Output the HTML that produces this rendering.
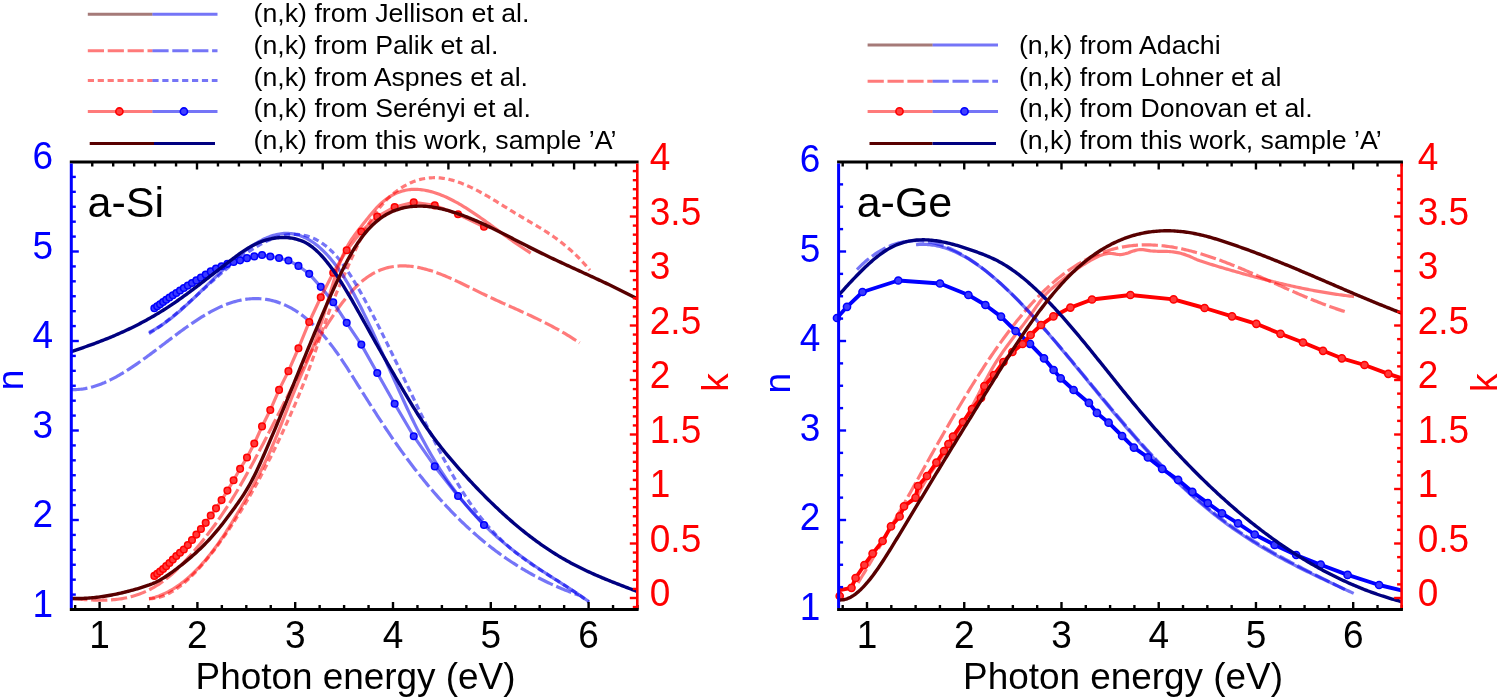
<!DOCTYPE html><html><head><meta charset="utf-8"><style>html,body{margin:0;padding:0;background:#fff;}svg{display:block;filter:blur(0.3px);}</style></head><body><svg width="1499" height="700" viewBox="0 0 1499 700" font-family='"Liberation Sans", sans-serif'>
<rect width="1499" height="700" fill="#fff"/>
<line x1="87.80" y1="14.20" x2="152.40" y2="14.20" stroke="#a57a78" stroke-width="3.0" />
<line x1="152.40" y1="14.20" x2="217.50" y2="14.20" stroke="rgba(0,0,240,0.54)" stroke-width="3.0" />
<line x1="87.80" y1="50.70" x2="152.40" y2="50.70" stroke="rgba(255,0,0,0.52)" stroke-width="3.0" stroke-dasharray="16.2 3.7"/>
<line x1="152.40" y1="50.70" x2="217.50" y2="50.70" stroke="rgba(0,0,240,0.54)" stroke-width="3.0" stroke-dasharray="16.2 3.7"/>
<line x1="87.80" y1="80.50" x2="152.40" y2="80.50" stroke="rgba(255,0,0,0.52)" stroke-width="3.0" stroke-dasharray="6.2 3.7"/>
<line x1="152.40" y1="80.50" x2="217.50" y2="80.50" stroke="rgba(0,0,240,0.54)" stroke-width="3.0" stroke-dasharray="6.2 3.7"/>
<line x1="87.80" y1="111.50" x2="152.40" y2="111.50" stroke="rgba(255,0,0,0.52)" stroke-width="3.0" />
<line x1="152.40" y1="111.50" x2="217.50" y2="111.50" stroke="rgba(0,0,240,0.54)" stroke-width="3.0" />
<circle cx="119.4" cy="111.5" r="3.6" fill="#ff4040" stroke="#ff0000" stroke-width="1.6"/>
<circle cx="183.9" cy="111.5" r="3.6" fill="#4040ff" stroke="#0000ff" stroke-width="1.6"/>
<line x1="89.70" y1="143.50" x2="154.00" y2="143.50" stroke="#580000" stroke-width="3.0" />
<line x1="154.00" y1="143.50" x2="215.00" y2="143.50" stroke="#000080" stroke-width="3.0" />
<text x="253.60" y="22.00" font-size="26.7" fill="#000" text-anchor="start" >(n,k) from Jellison et al.</text>
<text x="253.60" y="53.83" font-size="26.7" fill="#000" text-anchor="start" >(n,k) from Palik et al.</text>
<text x="253.60" y="85.66" font-size="26.7" fill="#000" text-anchor="start" >(n,k) from Aspnes et al.</text>
<text x="253.60" y="117.49" font-size="26.7" fill="#000" text-anchor="start" >(n,k) from Ser&#233;nyi et al.</text>
<text x="253.60" y="149.32" font-size="26.7" fill="#000" text-anchor="start" >(n,k) from this work, sample &#8217;A&#8217;</text>
<line x1="867.60" y1="45.00" x2="932.60" y2="45.00" stroke="#a57a78" stroke-width="3.0" />
<line x1="932.60" y1="45.00" x2="998.00" y2="45.00" stroke="rgba(0,0,240,0.54)" stroke-width="3.0" />
<line x1="867.60" y1="81.30" x2="932.60" y2="81.30" stroke="rgba(255,0,0,0.52)" stroke-width="3.0" stroke-dasharray="16.2 3.7"/>
<line x1="932.60" y1="81.30" x2="998.00" y2="81.30" stroke="rgba(0,0,240,0.54)" stroke-width="3.0" stroke-dasharray="16.2 3.7"/>
<line x1="867.60" y1="111.40" x2="932.60" y2="111.40" stroke="rgba(255,0,0,0.52)" stroke-width="3.0" />
<line x1="932.60" y1="111.40" x2="998.00" y2="111.40" stroke="rgba(0,0,240,0.54)" stroke-width="3.0" />
<circle cx="899.5" cy="111.4" r="3.6" fill="#ff4040" stroke="#ff0000" stroke-width="1.6"/>
<circle cx="964.5" cy="111.4" r="3.6" fill="#4040ff" stroke="#0000ff" stroke-width="1.6"/>
<line x1="869.50" y1="143.60" x2="932.60" y2="143.60" stroke="#580000" stroke-width="3.0" />
<line x1="932.60" y1="143.60" x2="996.00" y2="143.60" stroke="#000080" stroke-width="3.0" />
<text x="1018.90" y="53.83" font-size="26.7" fill="#000" text-anchor="start" >(n,k) from Adachi</text>
<text x="1018.90" y="85.66" font-size="26.7" fill="#000" text-anchor="start" >(n,k) from Lohner et al</text>
<text x="1018.90" y="117.49" font-size="26.7" fill="#000" text-anchor="start" >(n,k) from Donovan et al.</text>
<text x="1018.90" y="149.32" font-size="26.7" fill="#000" text-anchor="start" >(n,k) from this work, sample &#8217;A&#8217;</text>
<defs><clipPath id="cl"><rect x="71.3" y="162" width="566" height="447.5"/></clipPath><clipPath id="cr"><rect x="838.6" y="162" width="563" height="447.5"/></clipPath><clipPath id="clx"><rect x="60" y="150" width="590" height="470"/></clipPath><clipPath id="crx"><rect x="828" y="150" width="585" height="470"/></clipPath></defs>
<path clip-path="url(#cl)" fill="none" stroke-linejoin="round" d="M71.30,389.50 L72.80,389.55 L74.30,389.57 L75.80,389.54 L77.30,389.48 L78.80,389.38 L80.30,389.25 L81.80,389.07 L83.30,388.87 L84.80,388.63 L86.30,388.35 L87.80,388.05 L89.30,387.71 L90.80,387.34 L92.30,386.93 L93.80,386.50 L95.30,386.04 L96.80,385.55 L98.30,385.03 L99.80,384.48 L101.30,383.90 L102.80,383.30 L104.30,382.68 L105.80,382.02 L107.30,381.34 L108.80,380.64 L110.30,379.92 L111.80,379.17 L113.30,378.40 L114.80,377.61 L116.30,376.80 L117.80,375.96 L119.30,375.11 L120.80,374.24 L122.30,373.35 L123.80,372.45 L125.30,371.52 L126.80,370.58 L128.30,369.63 L129.80,368.66 L131.30,367.67 L132.80,366.67 L134.30,365.66 L135.80,364.64 L137.30,363.60 L138.80,362.55 L140.30,361.49 L141.80,360.43 L143.30,359.35 L144.80,358.26 L146.30,357.17 L147.80,356.07 L149.30,354.96 L150.80,353.85 L152.30,352.73 L153.80,351.60 L155.30,350.48 L156.80,349.34 L158.30,348.21 L159.80,347.07 L161.30,345.93 L162.80,344.80 L164.30,343.66 L165.80,342.52 L167.30,341.38 L168.80,340.24 L170.30,339.11 L171.80,337.98 L173.30,336.85 L174.80,335.73 L176.30,334.61 L177.80,333.49 L179.30,332.39 L180.80,331.29 L182.30,330.20 L183.80,329.11 L185.30,328.03 L186.80,326.97 L188.30,325.91 L189.80,324.87 L191.30,323.83 L192.80,322.81 L194.30,321.80 L195.80,320.80 L197.30,319.82 L198.80,318.85 L200.30,317.90 L201.80,316.96 L203.30,316.04 L204.80,315.13 L206.30,314.25 L207.80,313.38 L209.30,312.53 L210.80,311.70 L212.30,310.89 L213.80,310.10 L215.30,309.34 L216.80,308.59 L218.30,307.87 L219.80,307.17 L221.30,306.50 L222.80,305.85 L224.30,305.22 L225.80,304.62 L227.30,304.05 L228.80,303.51 L230.30,302.99 L231.80,302.50 L233.30,302.04 L234.80,301.60 L236.30,301.20 L237.80,300.82 L239.30,300.47 L240.80,300.15 L242.30,299.85 L243.80,299.59 L245.30,299.36 L246.80,299.16 L248.30,298.99 L249.80,298.85 L251.30,298.74 L252.80,298.66 L254.30,298.61 L255.80,298.59 L257.30,298.61 L258.80,298.66 L260.30,298.74 L261.80,298.85 L263.30,299.00 L264.80,299.18 L266.30,299.40 L267.80,299.64 L269.30,299.93 L270.80,300.24 L272.30,300.59 L273.80,300.98 L275.30,301.40 L276.80,301.86 L278.30,302.36 L279.80,302.89 L281.30,303.45 L282.80,304.05 L284.30,304.69 L285.80,305.37 L287.30,306.09 L288.80,306.84 L290.30,307.63 L291.80,308.46 L293.30,309.33 L294.80,310.23 L296.30,311.18 L297.80,312.17 L299.30,313.19 L300.80,314.26 L302.30,315.36 L303.80,316.51 L305.30,317.70 L306.80,318.92 L308.30,320.19 L309.80,321.51 L311.30,322.86 L312.80,324.25 L314.30,325.69 L315.80,327.17 L317.30,328.70 L318.80,330.27 L320.30,331.88 L321.80,333.53 L323.30,335.23 L324.80,336.97 L326.30,338.76 L327.80,340.60 L329.30,342.48 L330.80,344.40 L332.30,346.37 L333.80,348.39 L335.30,350.45 L336.80,352.55 L338.30,354.69 L339.80,356.87 L341.30,359.08 L342.80,361.32 L344.30,363.59 L345.80,365.89 L347.30,368.20 L348.80,370.54 L350.30,372.89 L351.80,375.26 L353.30,377.63 L354.80,380.02 L356.30,382.41 L357.80,384.80 L359.30,387.20 L360.80,389.59 L362.30,391.98 L363.80,394.36 L365.30,396.74 L366.80,399.12 L368.30,401.49 L369.80,403.85 L371.30,406.21 L372.80,408.56 L374.30,410.90 L375.80,413.23 L377.30,415.55 L378.80,417.87 L380.30,420.17 L381.80,422.45 L383.30,424.73 L384.80,426.99 L386.30,429.24 L387.80,431.47 L389.30,433.69 L390.80,435.89 L392.30,438.08 L393.80,440.25 L395.30,442.40 L396.80,444.54 L398.30,446.66 L399.80,448.76 L401.30,450.85 L402.80,452.92 L404.30,454.97 L405.80,457.01 L407.30,459.03 L408.80,461.04 L410.30,463.03 L411.80,465.00 L413.30,466.96 L414.80,468.90 L416.30,470.83 L417.80,472.74 L419.30,474.63 L420.80,476.51 L422.30,478.37 L423.80,480.22 L425.30,482.05 L426.80,483.86 L428.30,485.66 L429.80,487.45 L431.30,489.21 L432.80,490.97 L434.30,492.70 L435.80,494.42 L437.30,496.13 L438.80,497.82 L440.30,499.49 L441.80,501.15 L443.30,502.80 L444.80,504.42 L446.30,506.04 L447.80,507.63 L449.30,509.22 L450.80,510.78 L452.30,512.33 L453.80,513.87 L455.30,515.39 L456.80,516.90 L458.30,518.39 L459.80,519.87 L461.30,521.33 L462.80,522.77 L464.30,524.20 L465.80,525.62 L467.30,527.02 L468.80,528.41 L470.30,529.78 L471.80,531.13 L473.30,532.48 L474.80,533.80 L476.30,535.12 L477.80,536.41 L479.30,537.70 L480.80,538.97 L482.30,540.22 L483.80,541.46 L485.30,542.69 L486.80,543.90 L488.30,545.10 L489.80,546.29 L491.30,547.46 L492.80,548.62 L494.30,549.76 L495.80,550.90 L497.30,552.01 L498.80,553.12 L500.30,554.21 L501.80,555.29 L503.30,556.35 L504.80,557.41 L506.30,558.45 L507.80,559.47 L509.30,560.49 L510.80,561.49 L512.30,562.48 L513.80,563.46 L515.30,564.42 L516.80,565.37 L518.30,566.31 L519.80,567.24 L521.30,568.16 L522.80,569.06 L524.30,569.95 L525.80,570.84 L527.30,571.70 L528.80,572.56 L530.30,573.41 L531.80,574.24 L533.30,575.07 L534.80,575.88 L536.30,576.68 L537.80,577.47 L539.30,578.25 L540.80,579.02 L542.30,579.78 L543.80,580.52 L545.30,581.26 L546.80,581.99 L548.30,582.70 L549.80,583.41 L551.30,584.10 L552.80,584.79 L554.30,585.46 L555.80,586.12 L557.30,586.78 L558.80,587.42 L560.30,588.06 L561.80,588.69 L563.30,589.30 L564.80,589.91 L566.30,590.50 L567.80,591.09 L569.30,591.67 L570.80,592.24 L572.30,592.80 L573.80,593.35 L575.30,593.90 L576.80,594.43 L578.30,594.95 L579.00,595.20" stroke="rgba(0,0,240,0.54)" stroke-width="3.2" stroke-dasharray="16.2 3.7"/>
<path clip-path="url(#cl)" fill="none" stroke-linejoin="round" d="M71.30,598.42 L72.80,598.56 L74.30,598.70 L75.80,598.84 L77.30,598.97 L78.80,599.10 L80.30,599.23 L81.80,599.35 L83.30,599.47 L84.80,599.58 L86.30,599.68 L87.80,599.78 L89.30,599.87 L90.80,599.95 L92.30,600.02 L93.80,600.09 L95.30,600.14 L96.80,600.18 L98.30,600.21 L99.80,600.22 L101.30,600.23 L102.80,600.22 L104.30,600.19 L105.80,600.15 L107.30,600.10 L108.80,600.03 L110.30,599.94 L111.80,599.84 L113.30,599.71 L114.80,599.57 L116.30,599.41 L117.80,599.23 L119.30,599.03 L120.80,598.81 L122.30,598.57 L123.80,598.30 L125.30,598.01 L126.80,597.70 L128.30,597.36 L129.80,597.00 L131.30,596.61 L132.80,596.20 L134.30,595.76 L135.80,595.29 L137.30,594.79 L138.80,594.27 L140.30,593.71 L141.80,593.13 L143.30,592.52 L144.80,591.87 L146.30,591.19 L147.80,590.48 L149.30,589.74 L150.80,588.96 L152.30,588.15 L153.80,587.30 L155.30,586.42 L156.80,585.50 L158.30,584.54 L159.80,583.55 L161.30,582.52 L162.80,581.45 L164.30,580.34 L165.80,579.19 L167.30,578.00 L168.80,576.77 L170.30,575.50 L171.80,574.20 L173.30,572.86 L174.80,571.48 L176.30,570.07 L177.80,568.63 L179.30,567.16 L180.80,565.65 L182.30,564.12 L183.80,562.55 L185.30,560.96 L186.80,559.34 L188.30,557.70 L189.80,556.03 L191.30,554.33 L192.80,552.62 L194.30,550.88 L195.80,549.12 L197.30,547.34 L198.80,545.53 L200.30,543.71 L201.80,541.87 L203.30,540.00 L204.80,538.11 L206.30,536.20 L207.80,534.26 L209.30,532.30 L210.80,530.31 L212.30,528.30 L213.80,526.26 L215.30,524.20 L216.80,522.11 L218.30,519.99 L219.80,517.84 L221.30,515.67 L222.80,513.47 L224.30,511.23 L225.80,508.97 L227.30,506.68 L228.80,504.35 L230.30,502.00 L231.80,499.61 L233.30,497.19 L234.80,494.74 L236.30,492.26 L237.80,489.74 L239.30,487.20 L240.80,484.63 L242.30,482.03 L243.80,479.41 L245.30,476.76 L246.80,474.08 L248.30,471.39 L249.80,468.67 L251.30,465.93 L252.80,463.17 L254.30,460.39 L255.80,457.60 L257.30,454.79 L258.80,451.96 L260.30,449.12 L261.80,446.26 L263.30,443.40 L264.80,440.52 L266.30,437.63 L267.80,434.73 L269.30,431.83 L270.80,428.92 L272.30,426.00 L273.80,423.08 L275.30,420.15 L276.80,417.22 L278.30,414.29 L279.80,411.36 L281.30,408.43 L282.80,405.50 L284.30,402.58 L285.80,399.66 L287.30,396.74 L288.80,393.83 L290.30,390.92 L291.80,388.03 L293.30,385.14 L294.80,382.26 L296.30,379.40 L297.80,376.55 L299.30,373.71 L300.80,370.88 L302.30,368.07 L303.80,365.28 L305.30,362.50 L306.80,359.75 L308.30,357.01 L309.80,354.29 L311.30,351.60 L312.80,348.93 L314.30,346.28 L315.80,343.66 L317.30,341.07 L318.80,338.50 L320.30,335.96 L321.80,333.45 L323.30,330.98 L324.80,328.53 L326.30,326.12 L327.80,323.74 L329.30,321.40 L330.80,319.09 L332.30,316.82 L333.80,314.59 L335.30,312.40 L336.80,310.25 L338.30,308.15 L339.80,306.08 L341.30,304.06 L342.80,302.09 L344.30,300.16 L345.80,298.28 L347.30,296.45 L348.80,294.67 L350.30,292.93 L351.80,291.26 L353.30,289.63 L354.80,288.06 L356.30,286.54 L357.80,285.08 L359.30,283.68 L360.80,282.34 L362.30,281.05 L363.80,279.83 L365.30,278.67 L366.80,277.56 L368.30,276.52 L369.80,275.52 L371.30,274.59 L372.80,273.71 L374.30,272.88 L375.80,272.10 L377.30,271.38 L378.80,270.71 L380.30,270.08 L381.80,269.50 L383.30,268.97 L384.80,268.49 L386.30,268.05 L387.80,267.66 L389.30,267.30 L390.80,266.99 L392.30,266.72 L393.80,266.49 L395.30,266.30 L396.80,266.15 L398.30,266.03 L399.80,265.95 L401.30,265.90 L402.80,265.88 L404.30,265.90 L405.80,265.95 L407.30,266.03 L408.80,266.14 L410.30,266.27 L411.80,266.44 L413.30,266.63 L414.80,266.85 L416.30,267.10 L417.80,267.37 L419.30,267.66 L420.80,267.98 L422.30,268.33 L423.80,268.69 L425.30,269.08 L426.80,269.49 L428.30,269.92 L429.80,270.37 L431.30,270.84 L432.80,271.33 L434.30,271.84 L435.80,272.36 L437.30,272.90 L438.80,273.46 L440.30,274.03 L441.80,274.62 L443.30,275.22 L444.80,275.83 L446.30,276.46 L447.80,277.10 L449.30,277.75 L450.80,278.41 L452.30,279.08 L453.80,279.76 L455.30,280.45 L456.80,281.15 L458.30,281.86 L459.80,282.57 L461.30,283.28 L462.80,284.01 L464.30,284.73 L465.80,285.46 L467.30,286.20 L468.80,286.94 L470.30,287.67 L471.80,288.42 L473.30,289.16 L474.80,289.90 L476.30,290.64 L477.80,291.38 L479.30,292.11 L480.80,292.85 L482.30,293.58 L483.80,294.30 L485.30,295.03 L486.80,295.74 L488.30,296.45 L489.80,297.16 L491.30,297.86 L492.80,298.56 L494.30,299.25 L495.80,299.94 L497.30,300.63 L498.80,301.31 L500.30,301.99 L501.80,302.67 L503.30,303.35 L504.80,304.02 L506.30,304.69 L507.80,305.37 L509.30,306.04 L510.80,306.71 L512.30,307.38 L513.80,308.05 L515.30,308.72 L516.80,309.40 L518.30,310.07 L519.80,310.75 L521.30,311.43 L522.80,312.11 L524.30,312.79 L525.80,313.48 L527.30,314.17 L528.80,314.86 L530.30,315.56 L531.80,316.26 L533.30,316.97 L534.80,317.68 L536.30,318.40 L537.80,319.12 L539.30,319.85 L540.80,320.58 L542.30,321.32 L543.80,322.07 L545.30,322.83 L546.80,323.59 L548.30,324.36 L549.80,325.14 L551.30,325.93 L552.80,326.73 L554.30,327.54 L555.80,328.36 L557.30,329.18 L558.80,330.02 L560.30,330.87 L561.80,331.73 L563.30,332.60 L564.80,333.48 L566.30,334.38 L567.80,335.28 L569.30,336.20 L570.80,337.13 L572.30,338.08 L573.80,339.04 L575.30,340.01 L576.80,341.00 L578.30,342.00 L579.60,342.88" stroke="rgba(255,0,0,0.52)" stroke-width="3.2" stroke-dasharray="16.2 3.7"/>
<path clip-path="url(#cl)" fill="none" stroke-linejoin="round" d="M149.00,333.58 L150.50,332.65 L152.00,331.70 L153.50,330.72 L155.00,329.72 L156.50,328.69 L158.00,327.64 L159.50,326.58 L161.00,325.49 L162.50,324.38 L164.00,323.26 L165.50,322.11 L167.00,320.95 L168.50,319.77 L170.00,318.58 L171.50,317.37 L173.00,316.14 L174.50,314.91 L176.00,313.66 L177.50,312.39 L179.00,311.12 L180.50,309.83 L182.00,308.53 L183.50,307.23 L185.00,305.91 L186.50,304.59 L188.00,303.26 L189.50,301.92 L191.00,300.58 L192.50,299.23 L194.00,297.88 L195.50,296.52 L197.00,295.16 L198.50,293.80 L200.00,292.44 L201.50,291.07 L203.00,289.71 L204.50,288.34 L206.00,286.98 L207.50,285.62 L209.00,284.26 L210.50,282.90 L212.00,281.55 L213.50,280.21 L215.00,278.86 L216.50,277.53 L218.00,276.20 L219.50,274.88 L221.00,273.57 L222.50,272.26 L224.00,270.97 L225.50,269.69 L227.00,268.41 L228.50,267.15 L230.00,265.91 L231.50,264.67 L233.00,263.45 L234.50,262.24 L236.00,261.05 L237.50,259.88 L239.00,258.72 L240.50,257.58 L242.00,256.46 L243.50,255.36 L245.00,254.28 L246.50,253.21 L248.00,252.17 L249.50,251.15 L251.00,250.16 L252.50,249.18 L254.00,248.24 L255.50,247.31 L257.00,246.41 L258.50,245.54 L260.00,244.69 L261.50,243.87 L263.00,243.08 L264.50,242.32 L266.00,241.59 L267.50,240.89 L269.00,240.22 L270.50,239.58 L272.00,238.98 L273.50,238.40 L275.00,237.87 L276.50,237.36 L278.00,236.89 L279.50,236.46 L281.00,236.07 L282.50,235.71 L284.00,235.39 L285.50,235.11 L287.00,234.87 L288.50,234.67 L290.00,234.51 L291.50,234.40 L293.00,234.33 L294.50,234.30 L296.00,234.32 L297.50,234.39 L299.00,234.51 L300.50,234.67 L302.00,234.89 L303.50,235.16 L305.00,235.48 L306.50,235.86 L308.00,236.28 L309.50,236.77 L311.00,237.31 L312.50,237.91 L314.00,238.57 L315.50,239.29 L317.00,240.07 L318.50,240.91 L320.00,241.82 L321.50,242.79 L323.00,243.83 L324.50,244.93 L326.00,246.10 L327.50,247.34 L329.00,248.65 L330.50,250.03 L332.00,251.48 L333.50,253.00 L335.00,254.60 L336.50,256.27 L338.00,258.02 L339.50,259.85 L341.00,261.75 L342.50,263.72 L344.00,265.77 L345.50,267.88 L347.00,270.06 L348.50,272.30 L350.00,274.60 L351.50,276.96 L353.00,279.37 L354.50,281.83 L356.00,284.34 L357.50,286.90 L359.00,289.50 L360.50,292.14 L362.00,294.81 L363.50,297.52 L365.00,300.27 L366.50,303.04 L368.00,305.84 L369.50,308.66 L371.00,311.51 L372.50,314.39 L374.00,317.28 L375.50,320.20 L377.00,323.14 L378.50,326.10 L380.00,329.08 L381.50,332.08 L383.00,335.09 L384.50,338.12 L386.00,341.17 L387.50,344.23 L389.00,347.30 L390.50,350.38 L392.00,353.47 L393.50,356.58 L395.00,359.69 L396.50,362.81 L398.00,365.93 L399.50,369.06 L401.00,372.19 L402.50,375.33 L404.00,378.47 L405.50,381.61 L407.00,384.75 L408.50,387.89 L410.00,391.03 L411.50,394.17 L413.00,397.30 L414.50,400.42 L416.00,403.54 L417.50,406.66 L419.00,409.76 L420.50,412.86 L422.00,415.94 L423.50,419.02 L425.00,422.08 L426.50,425.13 L428.00,428.16 L429.50,431.18 L431.00,434.18 L432.50,437.16 L434.00,440.13 L435.50,443.07 L437.00,446.00 L438.50,448.90 L440.00,451.78 L441.50,454.63 L443.00,457.47 L444.50,460.27 L446.00,463.05 L447.50,465.80 L449.00,468.52 L450.50,471.21 L452.00,473.87 L453.50,476.50 L455.00,479.09 L456.50,481.65 L458.00,484.18 L459.50,486.67 L461.00,489.12 L462.50,491.53 L464.00,493.90 L465.50,496.24 L467.00,498.53 L468.50,500.77 L470.00,502.98 L471.50,505.14 L473.00,507.25 L474.50,509.33 L476.00,511.36 L477.50,513.35 L479.00,515.30 L480.50,517.20 L482.00,519.07 L483.50,520.91 L485.00,522.70 L486.50,524.46 L488.00,526.18 L489.50,527.86 L491.00,529.51 L492.50,531.13 L494.00,532.72 L495.50,534.27 L497.00,535.79 L498.50,537.29 L500.00,538.75 L501.50,540.18 L503.00,541.59 L504.50,542.97 L506.00,544.32 L507.50,545.65 L509.00,546.95 L510.50,548.23 L512.00,549.49 L513.50,550.72 L515.00,551.94 L516.50,553.13 L518.00,554.30 L519.50,555.46 L521.00,556.59 L522.50,557.71 L524.00,558.81 L525.50,559.89 L527.00,560.97 L528.50,562.02 L530.00,563.06 L531.50,564.09 L533.00,565.11 L534.50,566.12 L536.00,567.12 L537.50,568.11 L539.00,569.09 L540.50,570.06 L542.00,571.02 L543.50,571.98 L545.00,572.94 L546.50,573.88 L548.00,574.83 L549.50,575.77 L551.00,576.71 L552.50,577.65 L554.00,578.59 L555.50,579.53 L557.00,580.47 L558.50,581.41 L560.00,582.35 L561.50,583.30 L563.00,584.26 L564.50,585.21 L566.00,586.18 L567.50,587.15 L569.00,588.12 L570.50,589.11 L572.00,590.11 L573.50,591.11 L575.00,592.13 L576.50,593.15 L578.00,594.19 L579.50,595.25 L581.00,596.31 L582.50,597.40 L584.00,598.49 L585.50,599.61 L587.00,600.74 L588.50,601.89 L589.00,602.27" stroke="rgba(0,0,240,0.54)" stroke-width="3.2" stroke-dasharray="6.2 3.7"/>
<path clip-path="url(#cl)" fill="none" stroke-linejoin="round" d="M149.00,598.80 L150.50,598.76 L152.00,598.66 L153.50,598.49 L155.00,598.26 L156.50,597.97 L158.00,597.62 L159.50,597.22 L161.00,596.75 L162.50,596.23 L164.00,595.65 L165.50,595.02 L167.00,594.33 L168.50,593.59 L170.00,592.80 L171.50,591.95 L173.00,591.06 L174.50,590.11 L176.00,589.12 L177.50,588.07 L179.00,586.98 L180.50,585.85 L182.00,584.67 L183.50,583.44 L185.00,582.17 L186.50,580.86 L188.00,579.50 L189.50,578.11 L191.00,576.67 L192.50,575.19 L194.00,573.68 L195.50,572.13 L197.00,570.54 L198.50,568.92 L200.00,567.26 L201.50,565.56 L203.00,563.84 L204.50,562.08 L206.00,560.29 L207.50,558.47 L209.00,556.62 L210.50,554.74 L212.00,552.83 L213.50,550.90 L215.00,548.94 L216.50,546.95 L218.00,544.94 L219.50,542.90 L221.00,540.84 L222.50,538.75 L224.00,536.63 L225.50,534.49 L227.00,532.32 L228.50,530.12 L230.00,527.90 L231.50,525.65 L233.00,523.37 L234.50,521.07 L236.00,518.74 L237.50,516.38 L239.00,514.00 L240.50,511.59 L242.00,509.15 L243.50,506.68 L245.00,504.18 L246.50,501.66 L248.00,499.11 L249.50,496.53 L251.00,493.92 L252.50,491.29 L254.00,488.62 L255.50,485.93 L257.00,483.21 L258.50,480.46 L260.00,477.68 L261.50,474.87 L263.00,472.03 L264.50,469.17 L266.00,466.27 L267.50,463.35 L269.00,460.39 L270.50,457.41 L272.00,454.40 L273.50,451.35 L275.00,448.28 L276.50,445.18 L278.00,442.04 L279.50,438.88 L281.00,435.68 L282.50,432.46 L284.00,429.20 L285.50,425.92 L287.00,422.60 L288.50,419.25 L290.00,415.88 L291.50,412.47 L293.00,409.02 L294.50,405.55 L296.00,402.03 L297.50,398.46 L299.00,394.85 L300.50,391.19 L302.00,387.47 L303.50,383.69 L305.00,379.84 L306.50,375.93 L308.00,371.95 L309.50,367.89 L311.00,363.75 L312.50,359.52 L314.00,355.22 L315.50,350.86 L317.00,346.45 L318.50,342.02 L320.00,337.58 L321.50,333.16 L323.00,328.77 L324.50,324.43 L326.00,320.16 L327.50,315.97 L329.00,311.90 L330.50,307.92 L332.00,304.05 L333.50,300.26 L335.00,296.56 L336.50,292.92 L338.00,289.35 L339.50,285.83 L341.00,282.36 L342.50,278.92 L344.00,275.51 L345.50,272.12 L347.00,268.74 L348.50,265.36 L350.00,262.00 L351.50,258.66 L353.00,255.34 L354.50,252.06 L356.00,248.82 L357.50,245.62 L359.00,242.48 L360.50,239.39 L362.00,236.37 L363.50,233.43 L365.00,230.56 L366.50,227.78 L368.00,225.10 L369.50,222.51 L371.00,220.03 L372.50,217.65 L374.00,215.38 L375.50,213.20 L377.00,211.12 L378.50,209.14 L380.00,207.24 L381.50,205.42 L383.00,203.69 L384.50,202.04 L386.00,200.46 L387.50,198.95 L389.00,197.51 L390.50,196.13 L392.00,194.82 L393.50,193.56 L395.00,192.35 L396.50,191.20 L398.00,190.10 L399.50,189.05 L401.00,188.05 L402.50,187.10 L404.00,186.20 L405.50,185.35 L407.00,184.55 L408.50,183.79 L410.00,183.08 L411.50,182.42 L413.00,181.81 L414.50,181.24 L416.00,180.71 L417.50,180.23 L419.00,179.79 L420.50,179.40 L422.00,179.05 L423.50,178.74 L425.00,178.47 L426.50,178.25 L428.00,178.06 L429.50,177.91 L431.00,177.81 L432.50,177.74 L434.00,177.71 L435.50,177.72 L437.00,177.76 L438.50,177.85 L440.00,177.96 L441.50,178.12 L443.00,178.31 L444.50,178.53 L446.00,178.78 L447.50,179.07 L449.00,179.40 L450.50,179.75 L452.00,180.14 L453.50,180.55 L455.00,181.00 L456.50,181.47 L458.00,181.97 L459.50,182.50 L461.00,183.06 L462.50,183.64 L464.00,184.24 L465.50,184.87 L467.00,185.52 L468.50,186.19 L470.00,186.88 L471.50,187.59 L473.00,188.32 L474.50,189.07 L476.00,189.84 L477.50,190.62 L479.00,191.42 L480.50,192.23 L482.00,193.06 L483.50,193.90 L485.00,194.75 L486.50,195.62 L488.00,196.49 L489.50,197.38 L491.00,198.27 L492.50,199.17 L494.00,200.08 L495.50,200.99 L497.00,201.91 L498.50,202.83 L500.00,203.76 L501.50,204.69 L503.00,205.62 L504.50,206.55 L506.00,207.48 L507.50,208.41 L509.00,209.34 L510.50,210.27 L512.00,211.19 L513.50,212.11 L515.00,213.02 L516.50,213.93 L518.00,214.83 L519.50,215.72 L521.00,216.61 L522.50,217.50 L524.00,218.38 L525.50,219.26 L527.00,220.13 L528.50,221.01 L530.00,221.89 L531.50,222.77 L533.00,223.65 L534.50,224.54 L536.00,225.44 L537.50,226.34 L539.00,227.25 L540.50,228.16 L542.00,229.09 L543.50,230.03 L545.00,230.98 L546.50,231.94 L548.00,232.91 L549.50,233.91 L551.00,234.91 L552.50,235.94 L554.00,236.99 L555.50,238.05 L557.00,239.13 L558.50,240.24 L560.00,241.37 L561.50,242.52 L563.00,243.70 L564.50,244.91 L566.00,246.14 L567.50,247.40 L569.00,248.69 L570.50,250.01 L572.00,251.36 L573.50,252.75 L575.00,254.17 L576.50,255.62 L578.00,257.11 L579.50,258.64 L581.00,260.21 L582.50,261.81 L584.00,263.46 L585.50,265.14 L587.00,266.87 L588.50,268.65 L589.90,270.34" stroke="rgba(255,0,0,0.52)" stroke-width="3.2" stroke-dasharray="6.2 3.7"/>
<path clip-path="url(#cl)" fill="none" stroke-linejoin="round" d="M149.00,332.39 L150.50,331.66 L152.00,330.90 L153.50,330.10 L155.00,329.27 L156.50,328.39 L158.00,327.49 L159.50,326.55 L161.00,325.57 L162.50,324.57 L164.00,323.53 L165.50,322.47 L167.00,321.38 L168.50,320.25 L170.00,319.11 L171.50,317.93 L173.00,316.74 L174.50,315.51 L176.00,314.27 L177.50,313.01 L179.00,311.72 L180.50,310.42 L182.00,309.10 L183.50,307.76 L185.00,306.40 L186.50,305.03 L188.00,303.65 L189.50,302.25 L191.00,300.84 L192.50,299.42 L194.00,297.99 L195.50,296.55 L197.00,295.11 L198.50,293.65 L200.00,292.19 L201.50,290.73 L203.00,289.26 L204.50,287.79 L206.00,286.32 L207.50,284.85 L209.00,283.38 L210.50,281.91 L212.00,280.44 L213.50,278.98 L215.00,277.52 L216.50,276.06 L218.00,274.62 L219.50,273.18 L221.00,271.75 L222.50,270.33 L224.00,268.92 L225.50,267.52 L227.00,266.14 L228.50,264.77 L230.00,263.42 L231.50,262.08 L233.00,260.76 L234.50,259.45 L236.00,258.17 L237.50,256.90 L239.00,255.66 L240.50,254.44 L242.00,253.24 L243.50,252.07 L245.00,250.93 L246.50,249.80 L248.00,248.71 L249.50,247.65 L251.00,246.61 L252.50,245.61 L254.00,244.64 L255.50,243.70 L257.00,242.79 L258.50,241.92 L260.00,241.09 L261.50,240.29 L263.00,239.53 L264.50,238.81 L266.00,238.12 L267.50,237.48 L269.00,236.89 L270.50,236.33 L272.00,235.82 L273.50,235.36 L275.00,234.94 L276.50,234.56 L278.00,234.24 L279.50,233.97 L281.00,233.74 L282.50,233.57 L284.00,233.45 L285.50,233.38 L287.00,233.37 L288.50,233.41 L290.00,233.51 L291.50,233.67 L293.00,233.89 L294.50,234.16 L296.00,234.49 L297.50,234.88 L299.00,235.32 L300.50,235.83 L302.00,236.39 L303.50,237.01 L305.00,237.69 L306.50,238.44 L308.00,239.24 L309.50,240.10 L311.00,241.02 L312.50,242.00 L314.00,243.05 L315.50,244.15 L317.00,245.32 L318.50,246.55 L320.00,247.84 L321.50,249.19 L323.00,250.60 L324.50,252.08 L326.00,253.62 L327.50,255.23 L329.00,256.90 L330.50,258.63 L332.00,260.43 L333.50,262.29 L335.00,264.21 L336.50,266.20 L338.00,268.26 L339.50,270.38 L341.00,272.57 L342.50,274.82 L344.00,277.14 L345.50,279.53 L347.00,281.98 L348.50,284.49 L350.00,287.07 L351.50,289.70 L353.00,292.39 L354.50,295.13 L356.00,297.93 L357.50,300.77 L359.00,303.67 L360.50,306.60 L362.00,309.59 L363.50,312.61 L365.00,315.67 L366.50,318.77 L368.00,321.90 L369.50,325.07 L371.00,328.27 L372.50,331.49 L374.00,334.74 L375.50,338.02 L377.00,341.31 L378.50,344.62 L380.00,347.95 L381.50,351.29 L383.00,354.65 L384.50,358.01 L386.00,361.38 L387.50,364.76 L389.00,368.14 L390.50,371.51 L392.00,374.89 L393.50,378.26 L395.00,381.62 L396.50,384.97 L398.00,388.31 L399.50,391.64 L401.00,394.95 L402.50,398.24 L404.00,401.51 L405.50,404.76 L407.00,407.98 L408.50,411.17 L410.00,414.33 L411.50,417.46 L413.00,420.56 L414.50,423.61 L416.00,426.63 L417.50,429.60 L419.00,432.53 L420.50,435.42 L422.00,438.26 L423.50,441.06 L425.00,443.82 L426.50,446.54 L428.00,449.22 L429.50,451.86 L431.00,454.46 L432.50,457.02 L434.00,459.54 L435.50,462.02 L437.00,464.46 L438.50,466.87 L440.00,469.24 L441.50,471.57 L443.00,473.87 L444.50,476.13 L446.00,478.36 L447.50,480.56 L449.00,482.72 L450.50,484.84 L452.00,486.94 L453.50,489.00 L455.00,491.03 L456.50,493.03 L458.00,494.99 L459.50,496.93 L461.00,498.84 L462.50,500.72 L464.00,502.56 L465.50,504.39 L467.00,506.18 L468.50,507.94 L470.00,509.68 L471.50,511.40 L473.00,513.08 L474.50,514.74 L476.00,516.38 L477.50,517.99 L479.00,519.58 L480.50,521.14 L482.00,522.69 L483.50,524.21 L485.00,525.70 L486.50,527.18 L488.00,528.64 L489.50,530.07 L491.00,531.48 L492.50,532.88 L494.00,534.26 L495.50,535.61 L497.00,536.95 L498.50,538.27 L500.00,539.57 L501.50,540.86 L503.00,542.13 L504.50,543.38 L506.00,544.62 L507.50,545.84 L509.00,547.05 L510.50,548.24 L512.00,549.42 L513.50,550.59 L515.00,551.74 L516.50,552.88 L518.00,554.01 L519.50,555.12 L521.00,556.23 L522.50,557.32 L524.00,558.41 L525.50,559.48 L527.00,560.54 L528.50,561.60 L530.00,562.64 L531.50,563.68 L533.00,564.71 L534.50,565.73 L536.00,566.75 L537.50,567.76 L539.00,568.76 L540.50,569.75 L542.00,570.75 L543.50,571.73 L545.00,572.72 L546.50,573.70 L548.00,574.67 L549.50,575.64 L551.00,576.61 L552.50,577.58 L554.00,578.55 L555.50,579.51 L557.00,580.47 L558.50,581.44 L560.00,582.40 L561.50,583.37 L563.00,584.33 L564.50,585.30 L566.00,586.27 L567.50,587.24 L569.00,588.21 L570.50,589.19 L572.00,590.17 L573.50,591.15 L575.00,592.14 L576.50,593.13 L578.00,594.13 L579.50,595.13 L581.00,596.15 L582.50,597.16 L584.00,598.19 L585.50,599.22 L587.00,600.26 L588.50,601.31 L588.70,601.45" stroke="rgba(0,0,240,0.54)" stroke-width="3.2" />
<path clip-path="url(#cl)" fill="none" stroke-linejoin="round" d="M149.00,598.75 L150.50,598.42 L152.00,598.06 L153.50,597.66 L155.00,597.22 L156.50,596.74 L158.00,596.23 L159.50,595.68 L161.00,595.09 L162.50,594.46 L164.00,593.80 L165.50,593.10 L167.00,592.36 L168.50,591.58 L170.00,590.76 L171.50,589.91 L173.00,589.01 L174.50,588.08 L176.00,587.11 L177.50,586.10 L179.00,585.06 L180.50,583.97 L182.00,582.84 L183.50,581.68 L185.00,580.47 L186.50,579.23 L188.00,577.95 L189.50,576.62 L191.00,575.26 L192.50,573.86 L194.00,572.41 L195.50,570.93 L197.00,569.41 L198.50,567.84 L200.00,566.24 L201.50,564.60 L203.00,562.91 L204.50,561.18 L206.00,559.42 L207.50,557.61 L209.00,555.76 L210.50,553.87 L212.00,551.94 L213.50,549.97 L215.00,547.96 L216.50,545.90 L218.00,543.81 L219.50,541.67 L221.00,539.50 L222.50,537.29 L224.00,535.04 L225.50,532.76 L227.00,530.45 L228.50,528.10 L230.00,525.71 L231.50,523.30 L233.00,520.86 L234.50,518.38 L236.00,515.88 L237.50,513.35 L239.00,510.79 L240.50,508.21 L242.00,505.60 L243.50,502.96 L245.00,500.31 L246.50,497.63 L248.00,494.93 L249.50,492.21 L251.00,489.47 L252.50,486.71 L254.00,483.93 L255.50,481.13 L257.00,478.29 L258.50,475.41 L260.00,472.49 L261.50,469.53 L263.00,466.51 L264.50,463.43 L266.00,460.29 L267.50,457.08 L269.00,453.79 L270.50,450.42 L272.00,446.97 L273.50,443.44 L275.00,439.84 L276.50,436.18 L278.00,432.46 L279.50,428.70 L281.00,424.91 L282.50,421.09 L284.00,417.26 L285.50,413.42 L287.00,409.59 L288.50,405.77 L290.00,401.97 L291.50,398.20 L293.00,394.47 L294.50,390.79 L296.00,387.17 L297.50,383.62 L299.00,380.12 L300.50,376.66 L302.00,373.21 L303.50,369.77 L305.00,366.31 L306.50,362.82 L308.00,359.27 L309.50,355.66 L311.00,351.97 L312.50,348.17 L314.00,344.25 L315.50,340.20 L317.00,335.99 L318.50,331.61 L320.00,327.05 L321.50,322.30 L323.00,317.41 L324.50,312.40 L326.00,307.31 L327.50,302.18 L329.00,297.03 L330.50,291.91 L332.00,286.84 L333.50,281.87 L335.00,277.03 L336.50,272.36 L338.00,267.90 L339.50,263.71 L341.00,259.81 L342.50,256.21 L344.00,252.88 L345.50,249.80 L347.00,246.95 L348.50,244.29 L350.00,241.82 L351.50,239.49 L353.00,237.30 L354.50,235.21 L356.00,233.20 L357.50,231.25 L359.00,229.33 L360.50,227.42 L362.00,225.50 L363.50,223.58 L365.00,221.68 L366.50,219.78 L368.00,217.91 L369.50,216.06 L371.00,214.25 L372.50,212.48 L374.00,210.75 L375.50,209.08 L377.00,207.46 L378.50,205.92 L380.00,204.44 L381.50,203.04 L383.00,201.73 L384.50,200.48 L386.00,199.31 L387.50,198.22 L389.00,197.20 L390.50,196.24 L392.00,195.36 L393.50,194.54 L395.00,193.79 L396.50,193.10 L398.00,192.48 L399.50,191.92 L401.00,191.41 L402.50,190.97 L404.00,190.58 L405.50,190.25 L407.00,189.97 L408.50,189.74 L410.00,189.57 L411.50,189.44 L413.00,189.36 L414.50,189.33 L416.00,189.34 L417.50,189.40 L419.00,189.50 L420.50,189.63 L422.00,189.81 L423.50,190.03 L425.00,190.28 L426.50,190.56 L428.00,190.88 L429.50,191.23 L431.00,191.61 L432.50,192.03 L434.00,192.48 L435.50,192.95 L437.00,193.46 L438.50,193.99 L440.00,194.55 L441.50,195.14 L443.00,195.76 L444.50,196.40 L446.00,197.07 L447.50,197.76 L449.00,198.48 L450.50,199.21 L452.00,199.97 L453.50,200.76 L455.00,201.56 L456.50,202.38 L458.00,203.23 L459.50,204.09 L461.00,204.97 L462.50,205.86 L464.00,206.78 L465.50,207.71 L467.00,208.65 L468.50,209.61 L470.00,210.58 L471.50,211.57 L473.00,212.57 L474.50,213.57 L476.00,214.60 L477.50,215.63 L479.00,216.67 L480.50,217.72 L482.00,218.77 L483.50,219.84 L485.00,220.91 L486.50,221.98 L488.00,223.07 L489.50,224.15 L491.00,225.24 L492.50,226.34 L494.00,227.43 L495.50,228.53 L497.00,229.63 L498.50,230.73 L500.00,231.83 L501.50,232.93 L503.00,234.02 L504.50,235.11 L506.00,236.20 L507.50,237.29 L509.00,238.37 L510.50,239.44 L512.00,240.51 L513.50,241.58 L515.00,242.63 L516.50,243.68 L518.00,244.71 L519.50,245.74 L521.00,246.76 L522.50,247.76 L524.00,248.76 L525.50,249.74 L527.00,250.71 L528.50,251.66 L530.00,252.60 L530.70,253.04" stroke="rgba(255,0,0,0.52)" stroke-width="3.2" />
<path clip-path="url(#cl)" fill="none" stroke-linejoin="round" d="M154.36,308.25 L157.16,306.25 L160.06,304.18 L163.07,302.03 L166.19,299.79 L169.44,297.54 L172.82,295.30 L176.34,292.96 L180.01,290.52 L183.84,288.03 L187.83,285.61 L192.00,283.07 L196.36,280.42 L200.93,277.65 L205.72,274.55 L210.75,271.41 L216.02,268.56 L221.58,266.18 L227.42,263.83 L233.59,262.00 L240.10,260.37 L246.99,258.13 L254.29,256.42 L262.04,255.01 L270.28,256.45 L279.06,258.01 L288.43,260.45 L298.45,265.92 L309.21,273.83 L320.77,286.85 L333.23,302.20 L346.71,322.87 L361.34,344.61 L377.26,373.06 L394.65,403.78 L413.73,436.19 L434.76,466.39 L458.05,495.96 L483.99,524.99" stroke="rgba(0,0,240,0.54)" stroke-width="3.2" />
<g clip-path="url(#clx)">
<circle cx="154.36" cy="308.25" r="3.3" fill="#3a3aff" stroke="#0000ff" stroke-width="1.5"/>
<circle cx="157.16" cy="306.25" r="3.3" fill="#3a3aff" stroke="#0000ff" stroke-width="1.5"/>
<circle cx="160.06" cy="304.18" r="3.3" fill="#3a3aff" stroke="#0000ff" stroke-width="1.5"/>
<circle cx="163.07" cy="302.03" r="3.3" fill="#3a3aff" stroke="#0000ff" stroke-width="1.5"/>
<circle cx="166.19" cy="299.79" r="3.3" fill="#3a3aff" stroke="#0000ff" stroke-width="1.5"/>
<circle cx="169.44" cy="297.54" r="3.3" fill="#3a3aff" stroke="#0000ff" stroke-width="1.5"/>
<circle cx="172.82" cy="295.30" r="3.3" fill="#3a3aff" stroke="#0000ff" stroke-width="1.5"/>
<circle cx="176.34" cy="292.96" r="3.3" fill="#3a3aff" stroke="#0000ff" stroke-width="1.5"/>
<circle cx="180.01" cy="290.52" r="3.3" fill="#3a3aff" stroke="#0000ff" stroke-width="1.5"/>
<circle cx="183.84" cy="288.03" r="3.3" fill="#3a3aff" stroke="#0000ff" stroke-width="1.5"/>
<circle cx="187.83" cy="285.61" r="3.3" fill="#3a3aff" stroke="#0000ff" stroke-width="1.5"/>
<circle cx="192.00" cy="283.07" r="3.3" fill="#3a3aff" stroke="#0000ff" stroke-width="1.5"/>
<circle cx="196.36" cy="280.42" r="3.3" fill="#3a3aff" stroke="#0000ff" stroke-width="1.5"/>
<circle cx="200.93" cy="277.65" r="3.3" fill="#3a3aff" stroke="#0000ff" stroke-width="1.5"/>
<circle cx="205.72" cy="274.55" r="3.3" fill="#3a3aff" stroke="#0000ff" stroke-width="1.5"/>
<circle cx="210.75" cy="271.41" r="3.3" fill="#3a3aff" stroke="#0000ff" stroke-width="1.5"/>
<circle cx="216.02" cy="268.56" r="3.3" fill="#3a3aff" stroke="#0000ff" stroke-width="1.5"/>
<circle cx="221.58" cy="266.18" r="3.3" fill="#3a3aff" stroke="#0000ff" stroke-width="1.5"/>
<circle cx="227.42" cy="263.83" r="3.3" fill="#3a3aff" stroke="#0000ff" stroke-width="1.5"/>
<circle cx="233.59" cy="262.00" r="3.3" fill="#3a3aff" stroke="#0000ff" stroke-width="1.5"/>
<circle cx="240.10" cy="260.37" r="3.3" fill="#3a3aff" stroke="#0000ff" stroke-width="1.5"/>
<circle cx="246.99" cy="258.13" r="3.3" fill="#3a3aff" stroke="#0000ff" stroke-width="1.5"/>
<circle cx="254.29" cy="256.42" r="3.3" fill="#3a3aff" stroke="#0000ff" stroke-width="1.5"/>
<circle cx="262.04" cy="255.01" r="3.3" fill="#3a3aff" stroke="#0000ff" stroke-width="1.5"/>
<circle cx="270.28" cy="256.45" r="3.3" fill="#3a3aff" stroke="#0000ff" stroke-width="1.5"/>
<circle cx="279.06" cy="258.01" r="3.3" fill="#3a3aff" stroke="#0000ff" stroke-width="1.5"/>
<circle cx="288.43" cy="260.45" r="3.3" fill="#3a3aff" stroke="#0000ff" stroke-width="1.5"/>
<circle cx="298.45" cy="265.92" r="3.3" fill="#3a3aff" stroke="#0000ff" stroke-width="1.5"/>
<circle cx="309.21" cy="273.83" r="3.3" fill="#3a3aff" stroke="#0000ff" stroke-width="1.5"/>
<circle cx="320.77" cy="286.85" r="3.3" fill="#3a3aff" stroke="#0000ff" stroke-width="1.5"/>
<circle cx="333.23" cy="302.20" r="3.3" fill="#3a3aff" stroke="#0000ff" stroke-width="1.5"/>
<circle cx="346.71" cy="322.87" r="3.3" fill="#3a3aff" stroke="#0000ff" stroke-width="1.5"/>
<circle cx="361.34" cy="344.61" r="3.3" fill="#3a3aff" stroke="#0000ff" stroke-width="1.5"/>
<circle cx="377.26" cy="373.06" r="3.3" fill="#3a3aff" stroke="#0000ff" stroke-width="1.5"/>
<circle cx="394.65" cy="403.78" r="3.3" fill="#3a3aff" stroke="#0000ff" stroke-width="1.5"/>
<circle cx="413.73" cy="436.19" r="3.3" fill="#3a3aff" stroke="#0000ff" stroke-width="1.5"/>
<circle cx="434.76" cy="466.39" r="3.3" fill="#3a3aff" stroke="#0000ff" stroke-width="1.5"/>
<circle cx="458.05" cy="495.96" r="3.3" fill="#3a3aff" stroke="#0000ff" stroke-width="1.5"/>
<circle cx="483.99" cy="524.99" r="3.3" fill="#3a3aff" stroke="#0000ff" stroke-width="1.5"/>
</g>
<path clip-path="url(#cl)" fill="none" stroke-linejoin="round" d="M154.36,575.89 L157.16,573.77 L160.06,571.54 L163.07,569.05 L166.19,566.14 L169.44,562.93 L172.82,559.58 L176.34,556.06 L180.01,552.70 L183.84,549.45 L187.83,545.10 L192.00,540.07 L196.36,534.59 L200.93,529.05 L205.72,522.83 L210.75,515.47 L216.02,508.37 L221.58,500.11 L227.42,490.60 L233.59,480.32 L240.10,468.83 L246.99,457.51 L254.29,443.49 L262.04,426.42 L270.28,410.04 L279.06,389.89 L288.43,371.15 L298.45,348.26 L309.21,321.96 L320.77,297.27 L333.23,272.76 L346.71,250.20 L361.34,231.45 L377.26,216.63 L394.65,206.99 L413.73,202.42 L434.76,205.41 L458.05,214.23 L483.99,226.70" stroke="rgba(255,0,0,0.52)" stroke-width="3.2" />
<g clip-path="url(#clx)">
<circle cx="154.36" cy="575.89" r="3.3" fill="#ff3a3a" stroke="#ff0000" stroke-width="1.5"/>
<circle cx="157.16" cy="573.77" r="3.3" fill="#ff3a3a" stroke="#ff0000" stroke-width="1.5"/>
<circle cx="160.06" cy="571.54" r="3.3" fill="#ff3a3a" stroke="#ff0000" stroke-width="1.5"/>
<circle cx="163.07" cy="569.05" r="3.3" fill="#ff3a3a" stroke="#ff0000" stroke-width="1.5"/>
<circle cx="166.19" cy="566.14" r="3.3" fill="#ff3a3a" stroke="#ff0000" stroke-width="1.5"/>
<circle cx="169.44" cy="562.93" r="3.3" fill="#ff3a3a" stroke="#ff0000" stroke-width="1.5"/>
<circle cx="172.82" cy="559.58" r="3.3" fill="#ff3a3a" stroke="#ff0000" stroke-width="1.5"/>
<circle cx="176.34" cy="556.06" r="3.3" fill="#ff3a3a" stroke="#ff0000" stroke-width="1.5"/>
<circle cx="180.01" cy="552.70" r="3.3" fill="#ff3a3a" stroke="#ff0000" stroke-width="1.5"/>
<circle cx="183.84" cy="549.45" r="3.3" fill="#ff3a3a" stroke="#ff0000" stroke-width="1.5"/>
<circle cx="187.83" cy="545.10" r="3.3" fill="#ff3a3a" stroke="#ff0000" stroke-width="1.5"/>
<circle cx="192.00" cy="540.07" r="3.3" fill="#ff3a3a" stroke="#ff0000" stroke-width="1.5"/>
<circle cx="196.36" cy="534.59" r="3.3" fill="#ff3a3a" stroke="#ff0000" stroke-width="1.5"/>
<circle cx="200.93" cy="529.05" r="3.3" fill="#ff3a3a" stroke="#ff0000" stroke-width="1.5"/>
<circle cx="205.72" cy="522.83" r="3.3" fill="#ff3a3a" stroke="#ff0000" stroke-width="1.5"/>
<circle cx="210.75" cy="515.47" r="3.3" fill="#ff3a3a" stroke="#ff0000" stroke-width="1.5"/>
<circle cx="216.02" cy="508.37" r="3.3" fill="#ff3a3a" stroke="#ff0000" stroke-width="1.5"/>
<circle cx="221.58" cy="500.11" r="3.3" fill="#ff3a3a" stroke="#ff0000" stroke-width="1.5"/>
<circle cx="227.42" cy="490.60" r="3.3" fill="#ff3a3a" stroke="#ff0000" stroke-width="1.5"/>
<circle cx="233.59" cy="480.32" r="3.3" fill="#ff3a3a" stroke="#ff0000" stroke-width="1.5"/>
<circle cx="240.10" cy="468.83" r="3.3" fill="#ff3a3a" stroke="#ff0000" stroke-width="1.5"/>
<circle cx="246.99" cy="457.51" r="3.3" fill="#ff3a3a" stroke="#ff0000" stroke-width="1.5"/>
<circle cx="254.29" cy="443.49" r="3.3" fill="#ff3a3a" stroke="#ff0000" stroke-width="1.5"/>
<circle cx="262.04" cy="426.42" r="3.3" fill="#ff3a3a" stroke="#ff0000" stroke-width="1.5"/>
<circle cx="270.28" cy="410.04" r="3.3" fill="#ff3a3a" stroke="#ff0000" stroke-width="1.5"/>
<circle cx="279.06" cy="389.89" r="3.3" fill="#ff3a3a" stroke="#ff0000" stroke-width="1.5"/>
<circle cx="288.43" cy="371.15" r="3.3" fill="#ff3a3a" stroke="#ff0000" stroke-width="1.5"/>
<circle cx="298.45" cy="348.26" r="3.3" fill="#ff3a3a" stroke="#ff0000" stroke-width="1.5"/>
<circle cx="309.21" cy="321.96" r="3.3" fill="#ff3a3a" stroke="#ff0000" stroke-width="1.5"/>
<circle cx="320.77" cy="297.27" r="3.3" fill="#ff3a3a" stroke="#ff0000" stroke-width="1.5"/>
<circle cx="333.23" cy="272.76" r="3.3" fill="#ff3a3a" stroke="#ff0000" stroke-width="1.5"/>
<circle cx="346.71" cy="250.20" r="3.3" fill="#ff3a3a" stroke="#ff0000" stroke-width="1.5"/>
<circle cx="361.34" cy="231.45" r="3.3" fill="#ff3a3a" stroke="#ff0000" stroke-width="1.5"/>
<circle cx="377.26" cy="216.63" r="3.3" fill="#ff3a3a" stroke="#ff0000" stroke-width="1.5"/>
<circle cx="394.65" cy="206.99" r="3.3" fill="#ff3a3a" stroke="#ff0000" stroke-width="1.5"/>
<circle cx="413.73" cy="202.42" r="3.3" fill="#ff3a3a" stroke="#ff0000" stroke-width="1.5"/>
<circle cx="434.76" cy="205.41" r="3.3" fill="#ff3a3a" stroke="#ff0000" stroke-width="1.5"/>
<circle cx="458.05" cy="214.23" r="3.3" fill="#ff3a3a" stroke="#ff0000" stroke-width="1.5"/>
<circle cx="483.99" cy="226.70" r="3.3" fill="#ff3a3a" stroke="#ff0000" stroke-width="1.5"/>
</g>
<path clip-path="url(#cl)" fill="none" stroke-linejoin="round" d="M71.30,351.52 L72.80,351.04 L74.30,350.55 L75.80,350.05 L77.30,349.56 L78.80,349.06 L80.30,348.55 L81.80,348.04 L83.30,347.53 L84.80,347.01 L86.30,346.48 L87.80,345.95 L89.30,345.42 L90.80,344.88 L92.30,344.34 L93.80,343.79 L95.30,343.23 L96.80,342.67 L98.30,342.10 L99.80,341.53 L101.30,340.95 L102.80,340.37 L104.30,339.78 L105.80,339.18 L107.30,338.57 L108.80,337.96 L110.30,337.34 L111.80,336.72 L113.30,336.09 L114.80,335.45 L116.30,334.80 L117.80,334.15 L119.30,333.49 L120.80,332.82 L122.30,332.14 L123.80,331.46 L125.30,330.76 L126.80,330.06 L128.30,329.35 L129.80,328.64 L131.30,327.91 L132.80,327.18 L134.30,326.43 L135.80,325.68 L137.30,324.92 L138.80,324.15 L140.30,323.37 L141.80,322.58 L143.30,321.78 L144.80,320.97 L146.30,320.16 L147.80,319.33 L149.30,318.49 L150.80,317.64 L152.30,316.78 L153.80,315.92 L155.30,315.04 L156.80,314.15 L158.30,313.25 L159.80,312.33 L161.30,311.41 L162.80,310.48 L164.30,309.53 L165.80,308.58 L167.30,307.61 L168.80,306.63 L170.30,305.64 L171.80,304.64 L173.30,303.62 L174.80,302.60 L176.30,301.56 L177.80,300.52 L179.30,299.46 L180.80,298.40 L182.30,297.33 L183.80,296.24 L185.30,295.15 L186.80,294.06 L188.30,292.95 L189.80,291.84 L191.30,290.72 L192.80,289.60 L194.30,288.47 L195.80,287.33 L197.30,286.19 L198.80,285.04 L200.30,283.90 L201.80,282.74 L203.30,281.59 L204.80,280.43 L206.30,279.27 L207.80,278.10 L209.30,276.94 L210.80,275.77 L212.30,274.61 L213.80,273.44 L215.30,272.27 L216.80,271.10 L218.30,269.94 L219.80,268.77 L221.30,267.61 L222.80,266.45 L224.30,265.29 L225.80,264.13 L227.30,262.98 L228.80,261.83 L230.30,260.69 L231.80,259.54 L233.30,258.41 L234.80,257.29 L236.30,256.18 L237.80,255.08 L239.30,254.00 L240.80,252.95 L242.30,251.91 L243.80,250.90 L245.30,249.92 L246.80,248.97 L248.30,248.05 L249.80,247.16 L251.30,246.31 L252.80,245.51 L254.30,244.74 L255.80,244.00 L257.30,243.31 L258.80,242.65 L260.30,242.04 L261.80,241.46 L263.30,240.92 L264.80,240.42 L266.30,239.96 L267.80,239.54 L269.30,239.16 L270.80,238.81 L272.30,238.51 L273.80,238.25 L275.30,238.02 L276.80,237.84 L278.30,237.69 L279.80,237.59 L281.30,237.52 L282.80,237.49 L284.30,237.51 L285.80,237.56 L287.30,237.66 L288.80,237.79 L290.30,237.97 L291.80,238.18 L293.30,238.45 L294.80,238.76 L296.30,239.12 L297.80,239.53 L299.30,240.01 L300.80,240.54 L302.30,241.14 L303.80,241.81 L305.30,242.55 L306.80,243.37 L308.30,244.27 L309.80,245.25 L311.30,246.31 L312.80,247.46 L314.30,248.69 L315.80,250.00 L317.30,251.38 L318.80,252.85 L320.30,254.38 L321.80,255.99 L323.30,257.67 L324.80,259.42 L326.30,261.23 L327.80,263.11 L329.30,265.04 L330.80,267.04 L332.30,269.09 L333.80,271.19 L335.30,273.35 L336.80,275.56 L338.30,277.82 L339.80,280.12 L341.30,282.47 L342.80,284.86 L344.30,287.29 L345.80,289.76 L347.30,292.27 L348.80,294.80 L350.30,297.37 L351.80,299.96 L353.30,302.58 L354.80,305.22 L356.30,307.88 L357.80,310.55 L359.30,313.23 L360.80,315.93 L362.30,318.63 L363.80,321.33 L365.30,324.03 L366.80,326.74 L368.30,329.43 L369.80,332.12 L371.30,334.80 L372.80,337.48 L374.30,340.14 L375.80,342.80 L377.30,345.45 L378.80,348.09 L380.30,350.73 L381.80,353.35 L383.30,355.98 L384.80,358.59 L386.30,361.20 L387.80,363.80 L389.30,366.40 L390.80,368.99 L392.30,371.58 L393.80,374.16 L395.30,376.74 L396.80,379.31 L398.30,381.87 L399.80,384.44 L401.30,386.99 L402.80,389.54 L404.30,392.08 L405.80,394.61 L407.30,397.12 L408.80,399.62 L410.30,402.10 L411.80,404.57 L413.30,407.02 L414.80,409.44 L416.30,411.85 L417.80,414.23 L419.30,416.58 L420.80,418.91 L422.30,421.21 L423.80,423.48 L425.30,425.72 L426.80,427.93 L428.30,430.10 L429.80,432.23 L431.30,434.34 L432.80,436.41 L434.30,438.45 L435.80,440.46 L437.30,442.45 L438.80,444.40 L440.30,446.33 L441.80,448.24 L443.30,450.12 L444.80,451.98 L446.30,453.81 L447.80,455.63 L449.30,457.43 L450.80,459.21 L452.30,460.97 L453.80,462.71 L455.30,464.44 L456.80,466.16 L458.30,467.86 L459.80,469.55 L461.30,471.23 L462.80,472.90 L464.30,474.56 L465.80,476.21 L467.30,477.85 L468.80,479.48 L470.30,481.10 L471.80,482.71 L473.30,484.30 L474.80,485.89 L476.30,487.47 L477.80,489.03 L479.30,490.58 L480.80,492.12 L482.30,493.66 L483.80,495.18 L485.30,496.68 L486.80,498.18 L488.30,499.67 L489.80,501.14 L491.30,502.61 L492.80,504.06 L494.30,505.50 L495.80,506.93 L497.30,508.35 L498.80,509.76 L500.30,511.15 L501.80,512.54 L503.30,513.91 L504.80,515.27 L506.30,516.62 L507.80,517.96 L509.30,519.28 L510.80,520.60 L512.30,521.90 L513.80,523.19 L515.30,524.46 L516.80,525.73 L518.30,526.98 L519.80,528.22 L521.30,529.45 L522.80,530.67 L524.30,531.87 L525.80,533.07 L527.30,534.25 L528.80,535.41 L530.30,536.57 L531.80,537.71 L533.30,538.84 L534.80,539.96 L536.30,541.06 L537.80,542.15 L539.30,543.23 L540.80,544.30 L542.30,545.35 L543.80,546.39 L545.30,547.42 L546.80,548.43 L548.30,549.44 L549.80,550.42 L551.30,551.40 L552.80,552.36 L554.30,553.31 L555.80,554.25 L557.30,555.17 L558.80,556.08 L560.30,556.98 L561.80,557.86 L563.30,558.73 L564.80,559.59 L566.30,560.44 L567.80,561.27 L569.30,562.09 L570.80,562.91 L572.30,563.71 L573.80,564.50 L575.30,565.28 L576.80,566.05 L578.30,566.81 L579.80,567.56 L581.30,568.30 L582.80,569.03 L584.30,569.76 L585.80,570.47 L587.30,571.17 L588.80,571.87 L590.30,572.56 L591.80,573.24 L593.30,573.91 L594.80,574.58 L596.30,575.24 L597.80,575.89 L599.30,576.54 L600.80,577.18 L602.30,577.81 L603.80,578.44 L605.30,579.06 L606.80,579.68 L608.30,580.29 L609.80,580.90 L611.30,581.50 L612.80,582.10 L614.30,582.69 L615.80,583.28 L617.30,583.87 L618.80,584.45 L620.30,585.04 L621.80,585.61 L623.30,586.19 L624.80,586.76 L626.30,587.33 L627.80,587.90 L629.30,588.47 L630.80,589.03 L632.30,589.60 L633.80,590.16 L635.30,590.72 L636.80,591.29 L637.30,591.47" stroke="#000080" stroke-width="3.4" />
<path clip-path="url(#cl)" fill="none" stroke-linejoin="round" d="M71.30,598.53 L72.80,598.56 L74.30,598.57 L75.80,598.57 L77.30,598.56 L78.80,598.54 L80.30,598.50 L81.80,598.45 L83.30,598.39 L84.80,598.31 L86.30,598.23 L87.80,598.13 L89.30,598.01 L90.80,597.89 L92.30,597.75 L93.80,597.61 L95.30,597.45 L96.80,597.28 L98.30,597.09 L99.80,596.90 L101.30,596.69 L102.80,596.48 L104.30,596.25 L105.80,596.02 L107.30,595.77 L108.80,595.51 L110.30,595.24 L111.80,594.96 L113.30,594.67 L114.80,594.37 L116.30,594.06 L117.80,593.75 L119.30,593.42 L120.80,593.08 L122.30,592.73 L123.80,592.38 L125.30,592.01 L126.80,591.64 L128.30,591.26 L129.80,590.86 L131.30,590.46 L132.80,590.06 L134.30,589.64 L135.80,589.21 L137.30,588.78 L138.80,588.34 L140.30,587.89 L141.80,587.44 L143.30,586.97 L144.80,586.48 L146.30,585.98 L147.80,585.46 L149.30,584.92 L150.80,584.34 L152.30,583.74 L153.80,583.10 L155.30,582.43 L156.80,581.71 L158.30,580.95 L159.80,580.15 L161.30,579.30 L162.80,578.41 L164.30,577.48 L165.80,576.52 L167.30,575.52 L168.80,574.49 L170.30,573.43 L171.80,572.35 L173.30,571.25 L174.80,570.13 L176.30,568.99 L177.80,567.85 L179.30,566.68 L180.80,565.51 L182.30,564.33 L183.80,563.13 L185.30,561.91 L186.80,560.68 L188.30,559.43 L189.80,558.16 L191.30,556.87 L192.80,555.56 L194.30,554.23 L195.80,552.87 L197.30,551.49 L198.80,550.09 L200.30,548.66 L201.80,547.20 L203.30,545.72 L204.80,544.20 L206.30,542.66 L207.80,541.08 L209.30,539.47 L210.80,537.83 L212.30,536.15 L213.80,534.44 L215.30,532.69 L216.80,530.90 L218.30,529.08 L219.80,527.23 L221.30,525.35 L222.80,523.44 L224.30,521.51 L225.80,519.55 L227.30,517.57 L228.80,515.57 L230.30,513.56 L231.80,511.52 L233.30,509.48 L234.80,507.42 L236.30,505.33 L237.80,503.22 L239.30,501.07 L240.80,498.87 L242.30,496.62 L243.80,494.30 L245.30,491.92 L246.80,489.45 L248.30,486.90 L249.80,484.25 L251.30,481.50 L252.80,478.65 L254.30,475.69 L255.80,472.63 L257.30,469.49 L258.80,466.28 L260.30,463.00 L261.80,459.66 L263.30,456.27 L264.80,452.85 L266.30,449.41 L267.80,445.94 L269.30,442.45 L270.80,438.94 L272.30,435.42 L273.80,431.88 L275.30,428.32 L276.80,424.75 L278.30,421.17 L279.80,417.58 L281.30,413.97 L282.80,410.36 L284.30,406.73 L285.80,403.10 L287.30,399.46 L288.80,395.81 L290.30,392.16 L291.80,388.50 L293.30,384.84 L294.80,381.17 L296.30,377.51 L297.80,373.84 L299.30,370.18 L300.80,366.51 L302.30,362.85 L303.80,359.19 L305.30,355.54 L306.80,351.89 L308.30,348.24 L309.80,344.61 L311.30,340.98 L312.80,337.36 L314.30,333.75 L315.80,330.16 L317.30,326.57 L318.80,323.00 L320.30,319.44 L321.80,315.91 L323.30,312.39 L324.80,308.89 L326.30,305.42 L327.80,301.97 L329.30,298.56 L330.80,295.18 L332.30,291.83 L333.80,288.52 L335.30,285.25 L336.80,282.02 L338.30,278.84 L339.80,275.70 L341.30,272.62 L342.80,269.58 L344.30,266.60 L345.80,263.69 L347.30,260.83 L348.80,258.05 L350.30,255.34 L351.80,252.71 L353.30,250.16 L354.80,247.70 L356.30,245.33 L357.80,243.05 L359.30,240.85 L360.80,238.75 L362.30,236.72 L363.80,234.79 L365.30,232.93 L366.80,231.15 L368.30,229.46 L369.80,227.83 L371.30,226.29 L372.80,224.81 L374.30,223.41 L375.80,222.08 L377.30,220.81 L378.80,219.62 L380.30,218.48 L381.80,217.41 L383.30,216.40 L384.80,215.45 L386.30,214.55 L387.80,213.72 L389.30,212.93 L390.80,212.20 L392.30,211.52 L393.80,210.89 L395.30,210.30 L396.80,209.76 L398.30,209.27 L399.80,208.81 L401.30,208.40 L402.80,208.02 L404.30,207.69 L405.80,207.38 L407.30,207.11 L408.80,206.88 L410.30,206.68 L411.80,206.50 L413.30,206.37 L414.80,206.26 L416.30,206.18 L417.80,206.13 L419.30,206.11 L420.80,206.12 L422.30,206.16 L423.80,206.22 L425.30,206.31 L426.80,206.43 L428.30,206.57 L429.80,206.74 L431.30,206.93 L432.80,207.14 L434.30,207.38 L435.80,207.64 L437.30,207.92 L438.80,208.22 L440.30,208.54 L441.80,208.89 L443.30,209.25 L444.80,209.63 L446.30,210.03 L447.80,210.44 L449.30,210.87 L450.80,211.32 L452.30,211.78 L453.80,212.26 L455.30,212.76 L456.80,213.26 L458.30,213.78 L459.80,214.31 L461.30,214.86 L462.80,215.41 L464.30,215.98 L465.80,216.56 L467.30,217.15 L468.80,217.75 L470.30,218.36 L471.80,218.98 L473.30,219.61 L474.80,220.25 L476.30,220.90 L477.80,221.56 L479.30,222.23 L480.80,222.90 L482.30,223.59 L483.80,224.28 L485.30,224.97 L486.80,225.68 L488.30,226.39 L489.80,227.10 L491.30,227.83 L492.80,228.55 L494.30,229.29 L495.80,230.03 L497.30,230.77 L498.80,231.52 L500.30,232.27 L501.80,233.02 L503.30,233.78 L504.80,234.54 L506.30,235.31 L507.80,236.07 L509.30,236.84 L510.80,237.61 L512.30,238.38 L513.80,239.15 L515.30,239.93 L516.80,240.70 L518.30,241.47 L519.80,242.25 L521.30,243.02 L522.80,243.79 L524.30,244.56 L525.80,245.33 L527.30,246.10 L528.80,246.86 L530.30,247.62 L531.80,248.38 L533.30,249.14 L534.80,249.89 L536.30,250.64 L537.80,251.39 L539.30,252.13 L540.80,252.87 L542.30,253.60 L543.80,254.33 L545.30,255.05 L546.80,255.78 L548.30,256.50 L549.80,257.21 L551.30,257.92 L552.80,258.63 L554.30,259.34 L555.80,260.05 L557.30,260.75 L558.80,261.45 L560.30,262.15 L561.80,262.85 L563.30,263.54 L564.80,264.23 L566.30,264.92 L567.80,265.62 L569.30,266.30 L570.80,266.99 L572.30,267.68 L573.80,268.37 L575.30,269.05 L576.80,269.74 L578.30,270.42 L579.80,271.11 L581.30,271.80 L582.80,272.48 L584.30,273.17 L585.80,273.86 L587.30,274.54 L588.80,275.23 L590.30,275.92 L591.80,276.61 L593.30,277.30 L594.80,278.00 L596.30,278.69 L597.80,279.39 L599.30,280.09 L600.80,280.79 L602.30,281.49 L603.80,282.20 L605.30,282.90 L606.80,283.61 L608.30,284.33 L609.80,285.04 L611.30,285.76 L612.80,286.49 L614.30,287.21 L615.80,287.94 L617.30,288.68 L618.80,289.41 L620.30,290.16 L621.80,290.90 L623.30,291.65 L624.80,292.41 L626.30,293.17 L627.80,293.93 L629.30,294.70 L630.80,295.47 L632.30,296.25 L633.80,297.04 L635.30,297.83 L636.80,298.62 L637.30,298.89" stroke="#580000" stroke-width="3.4" />
<path clip-path="url(#cr)" fill="none" stroke-linejoin="round" d="M857.00,269.61 L858.50,268.07 L860.00,266.58 L861.50,265.13 L863.00,263.74 L864.50,262.38 L866.00,261.07 L867.50,259.81 L869.00,258.59 L870.50,257.41 L872.00,256.28 L873.50,255.19 L875.00,254.14 L876.50,253.13 L878.00,252.17 L879.50,251.25 L881.00,250.37 L882.50,249.53 L884.00,248.73 L885.50,247.97 L887.00,247.26 L888.50,246.58 L890.00,245.94 L891.50,245.34 L893.00,244.78 L894.50,244.25 L896.00,243.77 L897.50,243.32 L899.00,242.91 L900.50,242.53 L902.00,242.19 L903.50,241.89 L905.00,241.63 L906.50,241.40 L908.00,241.20 L909.50,241.04 L911.00,240.91 L912.50,240.82 L914.00,240.76 L915.50,240.73 L917.00,240.74 L918.50,240.78 L920.00,240.85 L921.50,240.96 L923.00,241.09 L924.50,241.26 L926.00,241.45 L927.50,241.68 L929.00,241.94 L930.50,242.23 L932.00,242.54 L933.50,242.89 L935.00,243.27 L936.50,243.67 L938.00,244.10 L939.50,244.56 L941.00,245.05 L942.50,245.56 L944.00,246.10 L945.50,246.67 L947.00,247.26 L948.50,247.88 L950.00,248.53 L951.50,249.20 L953.00,249.89 L954.50,250.61 L956.00,251.36 L957.50,252.13 L959.00,252.92 L960.50,253.74 L962.00,254.58 L963.50,255.45 L965.00,256.34 L966.50,257.25 L968.00,258.18 L969.50,259.13 L971.00,260.11 L972.50,261.11 L974.00,262.13 L975.50,263.17 L977.00,264.23 L978.50,265.31 L980.00,266.41 L981.50,267.54 L983.00,268.68 L984.50,269.84 L986.00,271.02 L987.50,272.22 L989.00,273.43 L990.50,274.67 L992.00,275.92 L993.50,277.19 L995.00,278.48 L996.50,279.79 L998.00,281.11 L999.50,282.45 L1001.00,283.80 L1002.50,285.17 L1004.00,286.56 L1005.50,287.96 L1007.00,289.38 L1008.50,290.81 L1010.00,292.25 L1011.50,293.71 L1013.00,295.19 L1014.50,296.68 L1016.00,298.18 L1017.50,299.69 L1019.00,301.22 L1020.50,302.76 L1022.00,304.31 L1023.50,305.87 L1025.00,307.45 L1026.50,309.04 L1028.00,310.64 L1029.50,312.24 L1031.00,313.86 L1032.50,315.49 L1034.00,317.13 L1035.50,318.78 L1037.00,320.44 L1038.50,322.11 L1040.00,323.79 L1041.50,325.48 L1043.00,327.17 L1044.50,328.87 L1046.00,330.58 L1047.50,332.30 L1049.00,334.02 L1050.50,335.76 L1052.00,337.49 L1053.50,339.24 L1055.00,340.99 L1056.50,342.75 L1058.00,344.51 L1059.50,346.28 L1061.00,348.05 L1062.50,349.83 L1064.00,351.61 L1065.50,353.39 L1067.00,355.18 L1068.50,356.97 L1070.00,358.77 L1071.50,360.57 L1073.00,362.37 L1074.50,364.18 L1076.00,365.98 L1077.50,367.79 L1079.00,369.60 L1080.50,371.42 L1082.00,373.23 L1083.50,375.05 L1085.00,376.86 L1086.50,378.68 L1088.00,380.50 L1089.50,382.32 L1091.00,384.14 L1092.50,385.95 L1094.00,387.77 L1095.50,389.59 L1097.00,391.40 L1098.50,393.22 L1100.00,395.03 L1101.50,396.84 L1103.00,398.65 L1104.50,400.46 L1106.00,402.27 L1107.50,404.07 L1109.00,405.87 L1110.50,407.67 L1112.00,409.46 L1113.50,411.25 L1115.00,413.04 L1116.50,414.82 L1118.00,416.60 L1119.50,418.37 L1121.00,420.14 L1122.50,421.90 L1124.00,423.66 L1125.50,425.41 L1127.00,427.16 L1128.50,428.90 L1130.00,430.64 L1131.50,432.37 L1133.00,434.09 L1134.50,435.81 L1136.00,437.51 L1137.50,439.21 L1139.00,440.91 L1140.50,442.59 L1142.00,444.27 L1143.50,445.94 L1145.00,447.60 L1146.50,449.25 L1148.00,450.90 L1149.50,452.53 L1151.00,454.16 L1152.50,455.77 L1154.00,457.38 L1155.50,458.97 L1157.00,460.55 L1158.50,462.13 L1160.00,463.69 L1161.50,465.25 L1163.00,466.79 L1164.50,468.32 L1166.00,469.85 L1167.50,471.36 L1169.00,472.86 L1170.50,474.35 L1172.00,475.83 L1173.50,477.31 L1175.00,478.77 L1176.50,480.22 L1178.00,481.66 L1179.50,483.09 L1181.00,484.51 L1182.50,485.92 L1184.00,487.32 L1185.50,488.70 L1187.00,490.08 L1188.50,491.45 L1190.00,492.81 L1191.50,494.16 L1193.00,495.49 L1194.50,496.82 L1196.00,498.14 L1197.50,499.44 L1199.00,500.74 L1200.50,502.02 L1202.00,503.30 L1203.50,504.56 L1205.00,505.81 L1206.50,507.06 L1208.00,508.29 L1209.50,509.51 L1211.00,510.72 L1212.50,511.93 L1214.00,513.12 L1215.50,514.30 L1217.00,515.47 L1218.50,516.63 L1220.00,517.77 L1221.50,518.91 L1223.00,520.04 L1224.50,521.16 L1226.00,522.27 L1227.50,523.36 L1229.00,524.45 L1230.50,525.52 L1232.00,526.59 L1233.50,527.65 L1235.00,528.69 L1236.50,529.73 L1238.00,530.76 L1239.50,531.78 L1241.00,532.79 L1242.50,533.79 L1244.00,534.78 L1245.50,535.76 L1247.00,536.74 L1248.50,537.71 L1250.00,538.66 L1251.50,539.61 L1253.00,540.56 L1254.50,541.49 L1256.00,542.42 L1257.50,543.34 L1259.00,544.25 L1260.50,545.16 L1262.00,546.06 L1263.50,546.95 L1265.00,547.84 L1266.50,548.72 L1268.00,549.59 L1269.50,550.46 L1271.00,551.32 L1272.50,552.17 L1274.00,553.02 L1275.50,553.87 L1277.00,554.71 L1278.50,555.54 L1280.00,556.37 L1281.50,557.19 L1283.00,558.01 L1284.50,558.83 L1286.00,559.64 L1287.50,560.44 L1289.00,561.24 L1290.50,562.04 L1292.00,562.83 L1293.50,563.62 L1295.00,564.41 L1296.50,565.19 L1298.00,565.97 L1299.50,566.75 L1301.00,567.53 L1302.50,568.30 L1304.00,569.07 L1305.50,569.83 L1307.00,570.60 L1308.50,571.36 L1310.00,572.12 L1311.50,572.88 L1313.00,573.63 L1314.50,574.39 L1316.00,575.14 L1317.50,575.89 L1319.00,576.64 L1320.50,577.39 L1322.00,578.14 L1323.50,578.89 L1325.00,579.64 L1326.50,580.39 L1328.00,581.14 L1329.50,581.89 L1331.00,582.64 L1332.50,583.38 L1334.00,584.13 L1335.50,584.88 L1337.00,585.63 L1338.50,586.39 L1340.00,587.14 L1341.50,587.89 L1343.00,588.65 L1344.50,589.40 L1345.00,589.66" stroke="rgba(0,0,240,0.54)" stroke-width="3.2" stroke-dasharray="16.2 3.7"/>
<path clip-path="url(#cr)" fill="none" stroke-linejoin="round" d="M858.00,582.85 L859.50,580.42 L861.00,577.99 L862.50,575.53 L864.00,573.07 L865.50,570.59 L867.00,568.10 L868.50,565.60 L870.00,563.09 L871.50,560.56 L873.00,558.03 L874.50,555.48 L876.00,552.93 L877.50,550.36 L879.00,547.78 L880.50,545.20 L882.00,542.61 L883.50,540.00 L885.00,537.40 L886.50,534.78 L888.00,532.15 L889.50,529.52 L891.00,526.89 L892.50,524.24 L894.00,521.59 L895.50,518.94 L897.00,516.28 L898.50,513.62 L900.00,510.95 L901.50,508.28 L903.00,505.60 L904.50,502.92 L906.00,500.24 L907.50,497.56 L909.00,494.88 L910.50,492.19 L912.00,489.50 L913.50,486.82 L915.00,484.13 L916.50,481.44 L918.00,478.75 L919.50,476.07 L921.00,473.38 L922.50,470.70 L924.00,468.01 L925.50,465.34 L927.00,462.66 L928.50,459.98 L930.00,457.31 L931.50,454.65 L933.00,451.99 L934.50,449.33 L936.00,446.68 L937.50,444.03 L939.00,441.39 L940.50,438.75 L942.00,436.13 L943.50,433.50 L945.00,430.89 L946.50,428.28 L948.00,425.69 L949.50,423.10 L951.00,420.51 L952.50,417.94 L954.00,415.38 L955.50,412.83 L957.00,410.29 L958.50,407.76 L960.00,405.24 L961.50,402.73 L963.00,400.23 L964.50,397.75 L966.00,395.27 L967.50,392.81 L969.00,390.37 L970.50,387.94 L972.00,385.52 L973.50,383.12 L975.00,380.73 L976.50,378.36 L978.00,376.00 L979.50,373.66 L981.00,371.33 L982.50,369.02 L984.00,366.73 L985.50,364.45 L987.00,362.19 L988.50,359.95 L990.00,357.73 L991.50,355.52 L993.00,353.33 L994.50,351.16 L996.00,349.00 L997.50,346.87 L999.00,344.75 L1000.50,342.65 L1002.00,340.57 L1003.50,338.51 L1005.00,336.47 L1006.50,334.45 L1008.00,332.44 L1009.50,330.46 L1011.00,328.50 L1012.50,326.56 L1014.00,324.64 L1015.50,322.74 L1017.00,320.86 L1018.50,319.01 L1020.00,317.17 L1021.50,315.36 L1023.00,313.57 L1024.50,311.80 L1026.00,310.05 L1027.50,308.32 L1029.00,306.62 L1030.50,304.94 L1032.00,303.29 L1033.50,301.66 L1035.00,300.05 L1036.50,298.47 L1038.00,296.91 L1039.50,295.37 L1041.00,293.86 L1042.50,292.37 L1044.00,290.91 L1045.50,289.47 L1047.00,288.06 L1048.50,286.67 L1050.00,285.31 L1051.50,283.97 L1053.00,282.65 L1054.50,281.36 L1056.00,280.09 L1057.50,278.85 L1059.00,277.63 L1060.50,276.43 L1062.00,275.26 L1063.50,274.11 L1065.00,272.99 L1066.50,271.89 L1068.00,270.81 L1069.50,269.76 L1071.00,268.73 L1072.50,267.72 L1074.00,266.74 L1075.50,265.78 L1077.00,264.85 L1078.50,263.93 L1080.00,263.04 L1081.50,262.18 L1083.00,261.33 L1084.50,260.51 L1086.00,259.72 L1087.50,258.94 L1089.00,258.19 L1090.50,257.46 L1092.00,256.75 L1093.50,256.07 L1095.00,255.41 L1096.50,254.77 L1098.00,254.15 L1099.50,253.56 L1101.00,252.98 L1102.50,252.43 L1104.00,251.90 L1105.50,251.39 L1107.00,250.90 L1108.50,250.43 L1110.00,249.98 L1111.50,249.56 L1113.00,249.15 L1114.50,248.76 L1116.00,248.39 L1117.50,248.04 L1119.00,247.71 L1120.50,247.40 L1122.00,247.11 L1123.50,246.84 L1125.00,246.59 L1126.50,246.35 L1128.00,246.14 L1129.50,245.94 L1131.00,245.76 L1132.50,245.59 L1134.00,245.45 L1135.50,245.32 L1137.00,245.21 L1138.50,245.11 L1140.00,245.04 L1141.50,244.97 L1143.00,244.93 L1144.50,244.90 L1146.00,244.89 L1147.50,244.89 L1149.00,244.91 L1150.50,244.95 L1152.00,245.00 L1153.50,245.06 L1155.00,245.14 L1156.50,245.24 L1158.00,245.35 L1159.50,245.47 L1161.00,245.61 L1162.50,245.76 L1164.00,245.93 L1165.50,246.10 L1167.00,246.30 L1168.50,246.50 L1170.00,246.72 L1171.50,246.95 L1173.00,247.20 L1174.50,247.46 L1176.00,247.73 L1177.50,248.01 L1179.00,248.30 L1180.50,248.61 L1182.00,248.92 L1183.50,249.25 L1185.00,249.59 L1186.50,249.94 L1188.00,250.30 L1189.50,250.68 L1191.00,251.06 L1192.50,251.45 L1194.00,251.85 L1195.50,252.27 L1197.00,252.69 L1198.50,253.12 L1200.00,253.56 L1201.50,254.01 L1203.00,254.47 L1204.50,254.94 L1206.00,255.42 L1207.50,255.90 L1209.00,256.40 L1210.50,256.90 L1212.00,257.41 L1213.50,257.93 L1215.00,258.45 L1216.50,258.98 L1218.00,259.52 L1219.50,260.07 L1221.00,260.62 L1222.50,261.18 L1224.00,261.75 L1225.50,262.32 L1227.00,262.90 L1228.50,263.48 L1230.00,264.07 L1231.50,264.67 L1233.00,265.27 L1234.50,265.87 L1236.00,266.48 L1237.50,267.10 L1239.00,267.72 L1240.50,268.34 L1242.00,268.97 L1243.50,269.60 L1245.00,270.24 L1246.50,270.88 L1248.00,271.52 L1249.50,272.17 L1251.00,272.82 L1252.50,273.47 L1254.00,274.13 L1255.50,274.78 L1257.00,275.44 L1258.50,276.11 L1260.00,276.77 L1261.50,277.43 L1263.00,278.10 L1264.50,278.77 L1266.00,279.44 L1267.50,280.11 L1269.00,280.78 L1270.50,281.46 L1272.00,282.13 L1273.50,282.80 L1275.00,283.47 L1276.50,284.15 L1278.00,284.82 L1279.50,285.49 L1281.00,286.16 L1282.50,286.83 L1284.00,287.50 L1285.50,288.17 L1287.00,288.84 L1288.50,289.51 L1290.00,290.17 L1291.50,290.83 L1293.00,291.49 L1294.50,292.15 L1296.00,292.80 L1297.50,293.46 L1299.00,294.11 L1300.50,294.75 L1302.00,295.40 L1303.50,296.04 L1305.00,296.67 L1306.50,297.30 L1308.00,297.93 L1309.50,298.56 L1311.00,299.18 L1312.50,299.79 L1314.00,300.40 L1315.50,301.01 L1317.00,301.61 L1318.50,302.20 L1320.00,302.79 L1321.50,303.38 L1323.00,303.96 L1324.50,304.53 L1326.00,305.09 L1327.50,305.65 L1329.00,306.21 L1330.50,306.75 L1332.00,307.29 L1333.50,307.82 L1335.00,308.35 L1336.50,308.87 L1338.00,309.38 L1339.50,309.88 L1341.00,310.37 L1342.50,310.86 L1344.00,311.33 L1345.00,311.65" stroke="rgba(255,0,0,0.52)" stroke-width="3.2" stroke-dasharray="16.2 3.7"/>
<path clip-path="url(#cr)" fill="none" stroke-linejoin="round" d="M916.00,244.76 L917.50,244.61 L919.00,244.49 L920.50,244.41 L922.00,244.37 L923.50,244.36 L925.00,244.39 L926.50,244.45 L928.00,244.55 L929.50,244.68 L931.00,244.84 L932.50,245.04 L934.00,245.27 L935.50,245.54 L937.00,245.83 L938.50,246.16 L940.00,246.52 L941.50,246.92 L943.00,247.34 L944.50,247.79 L946.00,248.28 L947.50,248.80 L949.00,249.34 L950.50,249.91 L952.00,250.52 L953.50,251.15 L955.00,251.81 L956.50,252.50 L958.00,253.21 L959.50,253.96 L961.00,254.72 L962.50,255.52 L964.00,256.34 L965.50,257.19 L967.00,258.07 L968.50,258.96 L970.00,259.89 L971.50,260.84 L973.00,261.81 L974.50,262.80 L976.00,263.82 L977.50,264.86 L979.00,265.93 L980.50,267.02 L982.00,268.13 L983.50,269.26 L985.00,270.41 L986.50,271.58 L988.00,272.77 L989.50,273.99 L991.00,275.22 L992.50,276.47 L994.00,277.74 L995.50,279.03 L997.00,280.34 L998.50,281.67 L1000.00,283.01 L1001.50,284.38 L1003.00,285.75 L1004.50,287.15 L1006.00,288.56 L1007.50,289.99 L1009.00,291.43 L1010.50,292.89 L1012.00,294.36 L1013.50,295.85 L1015.00,297.35 L1016.50,298.87 L1018.00,300.40 L1019.50,301.94 L1021.00,303.50 L1022.50,305.06 L1024.00,306.64 L1025.50,308.23 L1027.00,309.84 L1028.50,311.45 L1030.00,313.07 L1031.50,314.71 L1033.00,316.35 L1034.50,318.01 L1036.00,319.67 L1037.50,321.35 L1039.00,323.03 L1040.50,324.72 L1042.00,326.42 L1043.50,328.13 L1045.00,329.85 L1046.50,331.57 L1048.00,333.30 L1049.50,335.04 L1051.00,336.79 L1052.50,338.54 L1054.00,340.30 L1055.50,342.07 L1057.00,343.84 L1058.50,345.62 L1060.00,347.40 L1061.50,349.19 L1063.00,350.98 L1064.50,352.78 L1066.00,354.58 L1067.50,356.39 L1069.00,358.20 L1070.50,360.01 L1072.00,361.83 L1073.50,363.65 L1075.00,365.47 L1076.50,367.29 L1078.00,369.12 L1079.50,370.95 L1081.00,372.78 L1082.50,374.61 L1084.00,376.44 L1085.50,378.27 L1087.00,380.11 L1088.50,381.94 L1090.00,383.78 L1091.50,385.61 L1093.00,387.44 L1094.50,389.28 L1096.00,391.11 L1097.50,392.94 L1099.00,394.77 L1100.50,396.59 L1102.00,398.42 L1103.50,400.24 L1105.00,402.06 L1106.50,403.88 L1108.00,405.69 L1109.50,407.50 L1111.00,409.31 L1112.50,411.11 L1114.00,412.90 L1115.50,414.70 L1117.00,416.49 L1118.50,418.27 L1120.00,420.05 L1121.50,421.82 L1123.00,423.59 L1124.50,425.35 L1126.00,427.10 L1127.50,428.85 L1129.00,430.59 L1130.50,432.32 L1132.00,434.05 L1133.50,435.76 L1135.00,437.47 L1136.50,439.17 L1138.00,440.87 L1139.50,442.55 L1141.00,444.23 L1142.50,445.90 L1144.00,447.56 L1145.50,449.21 L1147.00,450.85 L1148.50,452.49 L1150.00,454.11 L1151.50,455.73 L1153.00,457.34 L1154.50,458.94 L1156.00,460.53 L1157.50,462.11 L1159.00,463.68 L1160.50,465.24 L1162.00,466.79 L1163.50,468.33 L1165.00,469.87 L1166.50,471.39 L1168.00,472.91 L1169.50,474.41 L1171.00,475.91 L1172.50,477.39 L1174.00,478.86 L1175.50,480.33 L1177.00,481.78 L1178.50,483.23 L1180.00,484.66 L1181.50,486.08 L1183.00,487.50 L1184.50,488.90 L1186.00,490.29 L1187.50,491.67 L1189.00,493.04 L1190.50,494.40 L1192.00,495.75 L1193.50,497.09 L1195.00,498.41 L1196.50,499.73 L1198.00,501.03 L1199.50,502.32 L1201.00,503.61 L1202.50,504.88 L1204.00,506.13 L1205.50,507.38 L1207.00,508.62 L1208.50,509.85 L1210.00,511.06 L1211.50,512.27 L1213.00,513.46 L1214.50,514.65 L1216.00,515.82 L1217.50,516.99 L1219.00,518.14 L1220.50,519.28 L1222.00,520.42 L1223.50,521.54 L1225.00,522.66 L1226.50,523.76 L1228.00,524.85 L1229.50,525.94 L1231.00,527.02 L1232.50,528.08 L1234.00,529.14 L1235.50,530.19 L1237.00,531.23 L1238.50,532.26 L1240.00,533.28 L1241.50,534.29 L1243.00,535.29 L1244.50,536.29 L1246.00,537.27 L1247.50,538.25 L1249.00,539.22 L1250.50,540.18 L1252.00,541.13 L1253.50,542.07 L1255.00,543.01 L1256.50,543.94 L1258.00,544.86 L1259.50,545.77 L1261.00,546.67 L1262.50,547.57 L1264.00,548.46 L1265.50,549.34 L1267.00,550.22 L1268.50,551.09 L1270.00,551.95 L1271.50,552.81 L1273.00,553.65 L1274.50,554.50 L1276.00,555.33 L1277.50,556.16 L1279.00,556.99 L1280.50,557.81 L1282.00,558.62 L1283.50,559.43 L1285.00,560.23 L1286.50,561.02 L1288.00,561.81 L1289.50,562.60 L1291.00,563.38 L1292.50,564.16 L1294.00,564.93 L1295.50,565.70 L1297.00,566.46 L1298.50,567.22 L1300.00,567.97 L1301.50,568.73 L1303.00,569.47 L1304.50,570.22 L1306.00,570.96 L1307.50,571.69 L1309.00,572.43 L1310.50,573.15 L1312.00,573.88 L1313.50,574.61 L1315.00,575.33 L1316.50,576.05 L1318.00,576.76 L1319.50,577.48 L1321.00,578.19 L1322.50,578.90 L1324.00,579.60 L1325.50,580.31 L1327.00,581.01 L1328.50,581.72 L1330.00,582.42 L1331.50,583.12 L1333.00,583.82 L1334.50,584.51 L1336.00,585.21 L1337.50,585.91 L1339.00,586.60 L1340.50,587.30 L1342.00,587.99 L1343.50,588.69 L1345.00,589.38 L1346.50,590.08 L1348.00,590.77 L1349.50,591.47 L1351.00,592.16 L1352.50,592.86 L1353.70,593.42" stroke="rgba(0,0,240,0.54)" stroke-width="3.2" />
<path clip-path="url(#cr)" fill="none" stroke-linejoin="round" d="M918.00,494.98 L919.50,491.86 L921.00,488.91 L922.50,486.11 L924.00,483.46 L925.50,480.93 L927.00,478.52 L928.50,476.20 L930.00,473.96 L931.50,471.79 L933.00,469.66 L934.50,467.57 L936.00,465.50 L937.50,463.44 L939.00,461.36 L940.50,459.26 L942.00,457.11 L943.50,454.92 L945.00,452.67 L946.50,450.38 L948.00,448.05 L949.50,445.67 L951.00,443.26 L952.50,440.81 L954.00,438.32 L955.50,435.80 L957.00,433.25 L958.50,430.68 L960.00,428.07 L961.50,425.45 L963.00,422.80 L964.50,420.13 L966.00,417.44 L967.50,414.73 L969.00,411.99 L970.50,409.24 L972.00,406.46 L973.50,403.66 L975.00,400.84 L976.50,397.99 L978.00,395.12 L979.50,392.22 L981.00,389.30 L982.50,386.38 L984.00,383.48 L985.50,380.60 L987.00,377.76 L988.50,374.98 L990.00,372.28 L991.50,369.65 L993.00,367.10 L994.50,364.61 L996.00,362.19 L997.50,359.84 L999.00,357.54 L1000.50,355.29 L1002.00,353.10 L1003.50,350.94 L1005.00,348.83 L1006.50,346.76 L1008.00,344.71 L1009.50,342.70 L1011.00,340.70 L1012.50,338.73 L1014.00,336.77 L1015.50,334.82 L1017.00,332.88 L1018.50,330.95 L1020.00,329.01 L1021.50,327.06 L1023.00,325.10 L1024.50,323.13 L1026.00,321.15 L1027.50,319.13 L1029.00,317.09 L1030.50,315.02 L1032.00,312.92 L1033.50,310.78 L1035.00,308.61 L1036.50,306.45 L1038.00,304.31 L1039.50,302.20 L1041.00,300.16 L1042.50,298.20 L1044.00,296.35 L1045.50,294.61 L1047.00,293.01 L1048.50,291.51 L1050.00,290.11 L1051.50,288.78 L1053.00,287.50 L1054.50,286.25 L1056.00,285.02 L1057.50,283.80 L1059.00,282.59 L1060.50,281.39 L1062.00,280.20 L1063.50,279.02 L1065.00,277.85 L1066.50,276.69 L1068.00,275.55 L1069.50,274.42 L1071.00,273.30 L1072.50,272.20 L1074.00,271.12 L1075.50,270.05 L1077.00,269.00 L1078.50,267.97 L1080.00,266.95 L1081.50,265.96 L1083.00,264.99 L1084.50,264.03 L1086.00,263.10 L1087.50,262.19 L1089.00,261.30 L1090.50,260.44 L1092.00,259.60 L1093.50,258.79 L1095.00,258.00 L1096.50,257.24 L1098.00,256.52 L1099.50,255.85 L1101.00,255.23 L1102.50,254.69 L1104.00,254.22 L1105.50,253.85 L1107.00,253.58 L1108.50,253.43 L1110.00,253.40 L1111.50,253.50 L1113.00,253.69 L1114.50,253.93 L1116.00,254.18 L1117.50,254.39 L1119.00,254.53 L1120.50,254.54 L1122.00,254.41 L1123.50,254.16 L1125.00,253.81 L1126.50,253.38 L1128.00,252.90 L1129.50,252.38 L1131.00,251.85 L1132.50,251.33 L1134.00,250.84 L1135.50,250.40 L1137.00,250.03 L1138.50,249.77 L1140.00,249.62 L1141.50,249.60 L1143.00,249.69 L1144.50,249.87 L1146.00,250.09 L1147.50,250.35 L1149.00,250.60 L1150.50,250.82 L1152.00,250.99 L1153.50,251.12 L1155.00,251.21 L1156.50,251.27 L1158.00,251.31 L1159.50,251.33 L1161.00,251.35 L1162.50,251.36 L1164.00,251.37 L1165.50,251.40 L1167.00,251.44 L1168.50,251.50 L1170.00,251.60 L1171.50,251.72 L1173.00,251.89 L1174.50,252.09 L1176.00,252.33 L1177.50,252.61 L1179.00,252.93 L1180.50,253.29 L1182.00,253.69 L1183.50,254.13 L1185.00,254.62 L1186.50,255.14 L1188.00,255.71 L1189.50,256.33 L1191.00,256.98 L1192.50,257.66 L1194.00,258.35 L1195.50,259.01 L1197.00,259.64 L1198.50,260.23 L1200.00,260.80 L1201.50,261.33 L1203.00,261.85 L1204.50,262.34 L1206.00,262.82 L1207.50,263.28 L1209.00,263.74 L1210.50,264.20 L1212.00,264.65 L1213.50,265.11 L1215.00,265.56 L1216.50,266.01 L1218.00,266.46 L1219.50,266.91 L1221.00,267.35 L1222.50,267.80 L1224.00,268.24 L1225.50,268.68 L1227.00,269.12 L1228.50,269.56 L1230.00,269.99 L1231.50,270.43 L1233.00,270.86 L1234.50,271.29 L1236.00,271.72 L1237.50,272.15 L1239.00,272.57 L1240.50,273.00 L1242.00,273.42 L1243.50,273.84 L1245.00,274.26 L1246.50,274.67 L1248.00,275.08 L1249.50,275.49 L1251.00,275.90 L1252.50,276.31 L1254.00,276.71 L1255.50,277.12 L1257.00,277.51 L1258.50,277.91 L1260.00,278.31 L1261.50,278.70 L1263.00,279.09 L1264.50,279.47 L1266.00,279.86 L1267.50,280.24 L1269.00,280.62 L1270.50,280.99 L1272.00,281.37 L1273.50,281.74 L1275.00,282.11 L1276.50,282.47 L1278.00,282.83 L1279.50,283.19 L1281.00,283.55 L1282.50,283.90 L1284.00,284.25 L1285.50,284.60 L1287.00,284.94 L1288.50,285.28 L1290.00,285.62 L1291.50,285.96 L1293.00,286.29 L1294.50,286.62 L1296.00,286.94 L1297.50,287.26 L1299.00,287.58 L1300.50,287.89 L1302.00,288.20 L1303.50,288.51 L1305.00,288.82 L1306.50,289.12 L1308.00,289.41 L1309.50,289.70 L1311.00,289.99 L1312.50,290.28 L1314.00,290.56 L1315.50,290.84 L1317.00,291.11 L1318.50,291.38 L1320.00,291.65 L1321.50,291.91 L1323.00,292.17 L1324.50,292.42 L1326.00,292.67 L1327.50,292.92 L1329.00,293.16 L1330.50,293.40 L1332.00,293.63 L1333.50,293.86 L1335.00,294.08 L1336.50,294.30 L1338.00,294.52 L1339.50,294.73 L1341.00,294.94 L1342.50,295.14 L1344.00,295.34 L1345.50,295.53 L1347.00,295.72 L1348.50,295.91 L1350.00,296.08 L1351.50,296.26 L1353.00,296.43 L1354.00,296.54" stroke="rgba(255,0,0,0.52)" stroke-width="3.2" />
<path clip-path="url(#cr)" fill="none" stroke-linejoin="round" d="M837.00,318.00 L847.00,306.80 L862.50,292.00 L898.30,280.50 L940.00,283.50 L968.40,295.00 L985.40,305.00 L1001.00,316.60 L1015.60,331.00 L1030.00,343.80 L1044.00,358.30 L1053.60,370.00 L1060.70,378.30 L1073.60,390.00 L1088.90,402.90 L1096.90,412.90 L1108.60,422.70 L1122.10,436.00 L1133.90,447.60 L1147.90,457.40 L1162.10,468.80 L1178.10,479.80 L1192.30,491.80 L1207.80,503.10 L1222.00,513.40 L1238.00,523.30 L1254.70,534.50 L1274.60,544.90 L1296.20,555.00 L1320.70,564.70 L1347.60,574.90 L1379.10,585.00 L1404.00,591.00" stroke="#0000ff" stroke-width="3.9" />
<g clip-path="url(#crx)">
<circle cx="837.00" cy="318.00" r="3.6" fill="#3a3aff" stroke="#0000ff" stroke-width="1.5"/>
<circle cx="847.00" cy="306.80" r="3.6" fill="#3a3aff" stroke="#0000ff" stroke-width="1.5"/>
<circle cx="862.50" cy="292.00" r="3.6" fill="#3a3aff" stroke="#0000ff" stroke-width="1.5"/>
<circle cx="898.30" cy="280.50" r="3.6" fill="#3a3aff" stroke="#0000ff" stroke-width="1.5"/>
<circle cx="940.00" cy="283.50" r="3.6" fill="#3a3aff" stroke="#0000ff" stroke-width="1.5"/>
<circle cx="968.40" cy="295.00" r="3.6" fill="#3a3aff" stroke="#0000ff" stroke-width="1.5"/>
<circle cx="985.40" cy="305.00" r="3.6" fill="#3a3aff" stroke="#0000ff" stroke-width="1.5"/>
<circle cx="1001.00" cy="316.60" r="3.6" fill="#3a3aff" stroke="#0000ff" stroke-width="1.5"/>
<circle cx="1015.60" cy="331.00" r="3.6" fill="#3a3aff" stroke="#0000ff" stroke-width="1.5"/>
<circle cx="1030.00" cy="343.80" r="3.6" fill="#3a3aff" stroke="#0000ff" stroke-width="1.5"/>
<circle cx="1044.00" cy="358.30" r="3.6" fill="#3a3aff" stroke="#0000ff" stroke-width="1.5"/>
<circle cx="1053.60" cy="370.00" r="3.6" fill="#3a3aff" stroke="#0000ff" stroke-width="1.5"/>
<circle cx="1060.70" cy="378.30" r="3.6" fill="#3a3aff" stroke="#0000ff" stroke-width="1.5"/>
<circle cx="1073.60" cy="390.00" r="3.6" fill="#3a3aff" stroke="#0000ff" stroke-width="1.5"/>
<circle cx="1088.90" cy="402.90" r="3.6" fill="#3a3aff" stroke="#0000ff" stroke-width="1.5"/>
<circle cx="1096.90" cy="412.90" r="3.6" fill="#3a3aff" stroke="#0000ff" stroke-width="1.5"/>
<circle cx="1108.60" cy="422.70" r="3.6" fill="#3a3aff" stroke="#0000ff" stroke-width="1.5"/>
<circle cx="1122.10" cy="436.00" r="3.6" fill="#3a3aff" stroke="#0000ff" stroke-width="1.5"/>
<circle cx="1133.90" cy="447.60" r="3.6" fill="#3a3aff" stroke="#0000ff" stroke-width="1.5"/>
<circle cx="1147.90" cy="457.40" r="3.6" fill="#3a3aff" stroke="#0000ff" stroke-width="1.5"/>
<circle cx="1162.10" cy="468.80" r="3.6" fill="#3a3aff" stroke="#0000ff" stroke-width="1.5"/>
<circle cx="1178.10" cy="479.80" r="3.6" fill="#3a3aff" stroke="#0000ff" stroke-width="1.5"/>
<circle cx="1192.30" cy="491.80" r="3.6" fill="#3a3aff" stroke="#0000ff" stroke-width="1.5"/>
<circle cx="1207.80" cy="503.10" r="3.6" fill="#3a3aff" stroke="#0000ff" stroke-width="1.5"/>
<circle cx="1222.00" cy="513.40" r="3.6" fill="#3a3aff" stroke="#0000ff" stroke-width="1.5"/>
<circle cx="1238.00" cy="523.30" r="3.6" fill="#3a3aff" stroke="#0000ff" stroke-width="1.5"/>
<circle cx="1254.70" cy="534.50" r="3.6" fill="#3a3aff" stroke="#0000ff" stroke-width="1.5"/>
<circle cx="1274.60" cy="544.90" r="3.6" fill="#3a3aff" stroke="#0000ff" stroke-width="1.5"/>
<circle cx="1296.20" cy="555.00" r="3.6" fill="#3a3aff" stroke="#0000ff" stroke-width="1.5"/>
<circle cx="1320.70" cy="564.70" r="3.6" fill="#3a3aff" stroke="#0000ff" stroke-width="1.5"/>
<circle cx="1347.60" cy="574.90" r="3.6" fill="#3a3aff" stroke="#0000ff" stroke-width="1.5"/>
<circle cx="1379.10" cy="585.00" r="3.6" fill="#3a3aff" stroke="#0000ff" stroke-width="1.5"/>
</g>
<path clip-path="url(#cr)" fill="none" stroke-linejoin="round" d="M838.60,590.40 L851.50,587.80 L855.60,578.00 L864.40,565.00 L872.60,553.60 L882.60,541.00 L891.00,526.40 L899.60,516.40 L904.00,506.40 L915.60,497.60 L918.00,486.00 L927.00,476.00 L936.40,462.60 L944.00,451.00 L948.40,444.00 L953.00,436.60 L963.00,422.00 L972.00,409.00 L981.00,398.00 L984.40,386.00 L994.00,375.00 L1003.40,362.00 L1012.40,352.00 L1022.60,344.00 L1030.60,335.00 L1041.00,325.00 L1053.40,316.40 L1070.40,307.60 L1092.00,299.50 L1130.40,295.00 L1173.60,299.40 L1204.60,308.00 L1232.00,316.30 L1256.30,323.80 L1280.50,333.80 L1303.00,342.50 L1323.00,350.80 L1341.80,358.30 L1364.50,365.00 L1388.30,373.80 L1404.00,379.00" stroke="#ff0000" stroke-width="3.9" />
<g clip-path="url(#crx)">
<circle cx="839.70" cy="596.00" r="3.6" fill="#ff3a3a" stroke="#ff0000" stroke-width="1.5"/>
<circle cx="851.50" cy="587.80" r="3.6" fill="#ff3a3a" stroke="#ff0000" stroke-width="1.5"/>
<circle cx="855.60" cy="578.00" r="3.6" fill="#ff3a3a" stroke="#ff0000" stroke-width="1.5"/>
<circle cx="864.40" cy="565.00" r="3.6" fill="#ff3a3a" stroke="#ff0000" stroke-width="1.5"/>
<circle cx="872.60" cy="553.60" r="3.6" fill="#ff3a3a" stroke="#ff0000" stroke-width="1.5"/>
<circle cx="882.60" cy="541.00" r="3.6" fill="#ff3a3a" stroke="#ff0000" stroke-width="1.5"/>
<circle cx="891.00" cy="526.40" r="3.6" fill="#ff3a3a" stroke="#ff0000" stroke-width="1.5"/>
<circle cx="899.60" cy="516.40" r="3.6" fill="#ff3a3a" stroke="#ff0000" stroke-width="1.5"/>
<circle cx="904.00" cy="506.40" r="3.6" fill="#ff3a3a" stroke="#ff0000" stroke-width="1.5"/>
<circle cx="915.60" cy="497.60" r="3.6" fill="#ff3a3a" stroke="#ff0000" stroke-width="1.5"/>
<circle cx="918.00" cy="486.00" r="3.6" fill="#ff3a3a" stroke="#ff0000" stroke-width="1.5"/>
<circle cx="927.00" cy="476.00" r="3.6" fill="#ff3a3a" stroke="#ff0000" stroke-width="1.5"/>
<circle cx="936.40" cy="462.60" r="3.6" fill="#ff3a3a" stroke="#ff0000" stroke-width="1.5"/>
<circle cx="944.00" cy="451.00" r="3.6" fill="#ff3a3a" stroke="#ff0000" stroke-width="1.5"/>
<circle cx="948.40" cy="444.00" r="3.6" fill="#ff3a3a" stroke="#ff0000" stroke-width="1.5"/>
<circle cx="953.00" cy="436.60" r="3.6" fill="#ff3a3a" stroke="#ff0000" stroke-width="1.5"/>
<circle cx="963.00" cy="422.00" r="3.6" fill="#ff3a3a" stroke="#ff0000" stroke-width="1.5"/>
<circle cx="972.00" cy="409.00" r="3.6" fill="#ff3a3a" stroke="#ff0000" stroke-width="1.5"/>
<circle cx="981.00" cy="398.00" r="3.6" fill="#ff3a3a" stroke="#ff0000" stroke-width="1.5"/>
<circle cx="984.40" cy="386.00" r="3.6" fill="#ff3a3a" stroke="#ff0000" stroke-width="1.5"/>
<circle cx="994.00" cy="375.00" r="3.6" fill="#ff3a3a" stroke="#ff0000" stroke-width="1.5"/>
<circle cx="1003.40" cy="362.00" r="3.6" fill="#ff3a3a" stroke="#ff0000" stroke-width="1.5"/>
<circle cx="1012.40" cy="352.00" r="3.6" fill="#ff3a3a" stroke="#ff0000" stroke-width="1.5"/>
<circle cx="1022.60" cy="344.00" r="3.6" fill="#ff3a3a" stroke="#ff0000" stroke-width="1.5"/>
<circle cx="1030.60" cy="335.00" r="3.6" fill="#ff3a3a" stroke="#ff0000" stroke-width="1.5"/>
<circle cx="1041.00" cy="325.00" r="3.6" fill="#ff3a3a" stroke="#ff0000" stroke-width="1.5"/>
<circle cx="1053.40" cy="316.40" r="3.6" fill="#ff3a3a" stroke="#ff0000" stroke-width="1.5"/>
<circle cx="1070.40" cy="307.60" r="3.6" fill="#ff3a3a" stroke="#ff0000" stroke-width="1.5"/>
<circle cx="1092.00" cy="299.50" r="3.6" fill="#ff3a3a" stroke="#ff0000" stroke-width="1.5"/>
<circle cx="1130.40" cy="295.00" r="3.6" fill="#ff3a3a" stroke="#ff0000" stroke-width="1.5"/>
<circle cx="1173.60" cy="299.40" r="3.6" fill="#ff3a3a" stroke="#ff0000" stroke-width="1.5"/>
<circle cx="1204.60" cy="308.00" r="3.6" fill="#ff3a3a" stroke="#ff0000" stroke-width="1.5"/>
<circle cx="1232.00" cy="316.30" r="3.6" fill="#ff3a3a" stroke="#ff0000" stroke-width="1.5"/>
<circle cx="1256.30" cy="323.80" r="3.6" fill="#ff3a3a" stroke="#ff0000" stroke-width="1.5"/>
<circle cx="1280.50" cy="333.80" r="3.6" fill="#ff3a3a" stroke="#ff0000" stroke-width="1.5"/>
<circle cx="1303.00" cy="342.50" r="3.6" fill="#ff3a3a" stroke="#ff0000" stroke-width="1.5"/>
<circle cx="1323.00" cy="350.80" r="3.6" fill="#ff3a3a" stroke="#ff0000" stroke-width="1.5"/>
<circle cx="1341.80" cy="358.30" r="3.6" fill="#ff3a3a" stroke="#ff0000" stroke-width="1.5"/>
<circle cx="1364.50" cy="365.00" r="3.6" fill="#ff3a3a" stroke="#ff0000" stroke-width="1.5"/>
<circle cx="1388.30" cy="373.80" r="3.6" fill="#ff3a3a" stroke="#ff0000" stroke-width="1.5"/>
</g>
<path clip-path="url(#cr)" fill="none" stroke-linejoin="round" d="M838.60,295.25 L840.10,293.59 L841.60,291.93 L843.10,290.27 L844.60,288.62 L846.10,286.97 L847.60,285.34 L849.10,283.71 L850.60,282.09 L852.10,280.49 L853.60,278.90 L855.10,277.32 L856.60,275.76 L858.10,274.22 L859.60,272.70 L861.10,271.20 L862.60,269.72 L864.10,268.26 L865.60,266.82 L867.10,265.42 L868.60,264.03 L870.10,262.68 L871.60,261.36 L873.10,260.07 L874.60,258.81 L876.10,257.58 L877.60,256.39 L879.10,255.24 L880.60,254.12 L882.10,253.04 L883.60,252.00 L885.10,251.01 L886.60,250.06 L888.10,249.15 L889.60,248.29 L891.10,247.47 L892.60,246.70 L894.10,245.98 L895.60,245.30 L897.10,244.67 L898.60,244.08 L900.10,243.53 L901.60,243.03 L903.10,242.56 L904.60,242.14 L906.10,241.75 L907.60,241.40 L909.10,241.09 L910.60,240.82 L912.10,240.58 L913.60,240.37 L915.10,240.20 L916.60,240.06 L918.10,239.95 L919.60,239.87 L921.10,239.83 L922.60,239.81 L924.10,239.82 L925.60,239.86 L927.10,239.92 L928.60,240.01 L930.10,240.13 L931.60,240.27 L933.10,240.43 L934.60,240.61 L936.10,240.81 L937.60,241.04 L939.10,241.28 L940.60,241.54 L942.10,241.82 L943.60,242.12 L945.10,242.44 L946.60,242.76 L948.10,243.11 L949.60,243.47 L951.10,243.85 L952.60,244.23 L954.10,244.64 L955.60,245.05 L957.10,245.48 L958.60,245.92 L960.10,246.37 L961.60,246.83 L963.10,247.31 L964.60,247.79 L966.10,248.28 L967.60,248.78 L969.10,249.29 L970.60,249.81 L972.10,250.33 L973.60,250.86 L975.10,251.40 L976.60,251.94 L978.10,252.49 L979.60,253.05 L981.10,253.61 L982.60,254.19 L984.10,254.78 L985.60,255.38 L987.10,256.00 L988.60,256.63 L990.10,257.28 L991.60,257.95 L993.10,258.64 L994.60,259.36 L996.10,260.09 L997.60,260.86 L999.10,261.65 L1000.60,262.47 L1002.10,263.31 L1003.60,264.19 L1005.10,265.10 L1006.60,266.03 L1008.10,266.99 L1009.60,267.98 L1011.10,268.99 L1012.60,270.04 L1014.10,271.10 L1015.60,272.20 L1017.10,273.31 L1018.60,274.46 L1020.10,275.62 L1021.60,276.81 L1023.10,278.03 L1024.60,279.26 L1026.10,280.52 L1027.60,281.81 L1029.10,283.11 L1030.60,284.44 L1032.10,285.78 L1033.60,287.15 L1035.10,288.54 L1036.60,289.94 L1038.10,291.37 L1039.60,292.81 L1041.10,294.28 L1042.60,295.76 L1044.10,297.26 L1045.60,298.77 L1047.10,300.31 L1048.60,301.86 L1050.10,303.42 L1051.60,305.01 L1053.10,306.60 L1054.60,308.21 L1056.10,309.84 L1057.60,311.48 L1059.10,313.13 L1060.60,314.80 L1062.10,316.48 L1063.60,318.17 L1065.10,319.88 L1066.60,321.59 L1068.10,323.32 L1069.60,325.06 L1071.10,326.80 L1072.60,328.56 L1074.10,330.33 L1075.60,332.11 L1077.10,333.89 L1078.60,335.68 L1080.10,337.49 L1081.60,339.29 L1083.10,341.11 L1084.60,342.93 L1086.10,344.76 L1087.60,346.60 L1089.10,348.44 L1090.60,350.28 L1092.10,352.13 L1093.60,353.98 L1095.10,355.84 L1096.60,357.70 L1098.10,359.57 L1099.60,361.43 L1101.10,363.30 L1102.60,365.17 L1104.10,367.04 L1105.60,368.92 L1107.10,370.79 L1108.60,372.66 L1110.10,374.54 L1111.60,376.41 L1113.10,378.28 L1114.60,380.15 L1116.10,382.02 L1117.60,383.88 L1119.10,385.75 L1120.60,387.61 L1122.10,389.46 L1123.60,391.31 L1125.10,393.16 L1126.60,395.00 L1128.10,396.84 L1129.60,398.67 L1131.10,400.50 L1132.60,402.32 L1134.10,404.13 L1135.60,405.94 L1137.10,407.74 L1138.60,409.53 L1140.10,411.32 L1141.60,413.09 L1143.10,414.87 L1144.60,416.63 L1146.10,418.39 L1147.60,420.14 L1149.10,421.88 L1150.60,423.61 L1152.10,425.34 L1153.60,427.06 L1155.10,428.78 L1156.60,430.48 L1158.10,432.18 L1159.60,433.88 L1161.10,435.56 L1162.60,437.24 L1164.10,438.91 L1165.60,440.57 L1167.10,442.23 L1168.60,443.87 L1170.10,445.51 L1171.60,447.15 L1173.10,448.77 L1174.60,450.39 L1176.10,452.00 L1177.60,453.60 L1179.10,455.20 L1180.60,456.78 L1182.10,458.36 L1183.60,459.93 L1185.10,461.50 L1186.60,463.05 L1188.10,464.60 L1189.60,466.14 L1191.10,467.68 L1192.60,469.20 L1194.10,470.72 L1195.60,472.23 L1197.10,473.73 L1198.60,475.22 L1200.10,476.71 L1201.60,478.18 L1203.10,479.65 L1204.60,481.11 L1206.10,482.57 L1207.60,484.01 L1209.10,485.45 L1210.60,486.88 L1212.10,488.30 L1213.60,489.71 L1215.10,491.11 L1216.60,492.51 L1218.10,493.90 L1219.60,495.28 L1221.10,496.65 L1222.60,498.01 L1224.10,499.36 L1225.60,500.71 L1227.10,502.05 L1228.60,503.38 L1230.10,504.70 L1231.60,506.01 L1233.10,507.31 L1234.60,508.61 L1236.10,509.89 L1237.60,511.17 L1239.10,512.44 L1240.60,513.70 L1242.10,514.96 L1243.60,516.20 L1245.10,517.44 L1246.60,518.67 L1248.10,519.89 L1249.60,521.10 L1251.10,522.30 L1252.60,523.50 L1254.10,524.69 L1255.60,525.86 L1257.10,527.03 L1258.60,528.20 L1260.10,529.35 L1261.60,530.49 L1263.10,531.63 L1264.60,532.76 L1266.10,533.88 L1267.60,534.99 L1269.10,536.10 L1270.60,537.19 L1272.10,538.28 L1273.60,539.36 L1275.10,540.43 L1276.60,541.49 L1278.10,542.55 L1279.60,543.59 L1281.10,544.63 L1282.60,545.66 L1284.10,546.68 L1285.60,547.70 L1287.10,548.70 L1288.60,549.70 L1290.10,550.69 L1291.60,551.67 L1293.10,552.64 L1294.60,553.60 L1296.10,554.56 L1297.60,555.51 L1299.10,556.45 L1300.60,557.38 L1302.10,558.30 L1303.60,559.22 L1305.10,560.13 L1306.60,561.03 L1308.10,561.92 L1309.60,562.80 L1311.10,563.67 L1312.60,564.54 L1314.10,565.40 L1315.60,566.25 L1317.10,567.09 L1318.60,567.93 L1320.10,568.75 L1321.60,569.57 L1323.10,570.38 L1324.60,571.18 L1326.10,571.98 L1327.60,572.76 L1329.10,573.54 L1330.60,574.31 L1332.10,575.07 L1333.60,575.83 L1335.10,576.57 L1336.60,577.31 L1338.10,578.04 L1339.60,578.76 L1341.10,579.48 L1342.60,580.18 L1344.10,580.88 L1345.60,581.57 L1347.10,582.25 L1348.60,582.93 L1350.10,583.59 L1351.60,584.25 L1353.10,584.90 L1354.60,585.54 L1356.10,586.18 L1357.60,586.80 L1359.10,587.42 L1360.60,588.03 L1362.10,588.63 L1363.60,589.23 L1365.10,589.82 L1366.60,590.39 L1368.10,590.97 L1369.60,591.53 L1371.10,592.08 L1372.60,592.63 L1374.10,593.17 L1375.60,593.70 L1377.10,594.23 L1378.60,594.74 L1380.10,595.25 L1381.60,595.75 L1383.10,596.24 L1384.60,596.73 L1386.10,597.20 L1387.60,597.67 L1389.10,598.13 L1390.60,598.58 L1392.10,599.03 L1393.60,599.47 L1395.10,599.90 L1396.60,600.32 L1398.10,600.73 L1399.60,601.14 L1401.10,601.54 L1401.60,601.67" stroke="#000080" stroke-width="3.4" />
<path clip-path="url(#cr)" fill="none" stroke-linejoin="round" d="M838.60,599.87 L840.10,599.96 L841.60,599.92 L843.10,599.76 L844.60,599.47 L846.10,599.07 L847.60,598.54 L849.10,597.91 L850.60,597.16 L852.10,596.31 L853.60,595.36 L855.10,594.31 L856.60,593.16 L858.10,591.92 L859.60,590.59 L861.10,589.17 L862.60,587.67 L864.10,586.09 L865.60,584.44 L867.10,582.72 L868.60,580.92 L870.10,579.06 L871.60,577.14 L873.10,575.16 L874.60,573.13 L876.10,571.04 L877.60,568.91 L879.10,566.73 L880.60,564.51 L882.10,562.25 L883.60,559.95 L885.10,557.62 L886.60,555.27 L888.10,552.89 L889.60,550.49 L891.10,548.06 L892.60,545.63 L894.10,543.18 L895.60,540.72 L897.10,538.26 L898.60,535.80 L900.10,533.33 L901.60,530.85 L903.10,528.37 L904.60,525.89 L906.10,523.41 L907.60,520.92 L909.10,518.43 L910.60,515.95 L912.10,513.45 L913.60,510.96 L915.10,508.47 L916.60,505.98 L918.10,503.49 L919.60,500.99 L921.10,498.50 L922.60,496.01 L924.10,493.53 L925.60,491.04 L927.10,488.56 L928.60,486.08 L930.10,483.60 L931.60,481.12 L933.10,478.65 L934.60,476.18 L936.10,473.71 L937.60,471.25 L939.10,468.79 L940.60,466.32 L942.10,463.87 L943.60,461.41 L945.10,458.96 L946.60,456.50 L948.10,454.05 L949.60,451.61 L951.10,449.16 L952.60,446.71 L954.10,444.27 L955.60,441.83 L957.10,439.39 L958.60,436.95 L960.10,434.51 L961.60,432.08 L963.10,429.64 L964.60,427.21 L966.10,424.78 L967.60,422.35 L969.10,419.92 L970.60,417.49 L972.10,415.06 L973.60,412.63 L975.10,410.21 L976.60,407.78 L978.10,405.35 L979.60,402.93 L981.10,400.51 L982.60,398.08 L984.10,395.66 L985.60,393.23 L987.10,390.81 L988.60,388.39 L990.10,385.97 L991.60,383.54 L993.10,381.12 L994.60,378.70 L996.10,376.29 L997.60,373.87 L999.10,371.47 L1000.60,369.06 L1002.10,366.66 L1003.60,364.27 L1005.10,361.89 L1006.60,359.51 L1008.10,357.15 L1009.60,354.79 L1011.10,352.44 L1012.60,350.11 L1014.10,347.79 L1015.60,345.47 L1017.10,343.18 L1018.60,340.89 L1020.10,338.63 L1021.60,336.38 L1023.10,334.14 L1024.60,331.92 L1026.10,329.72 L1027.60,327.54 L1029.10,325.38 L1030.60,323.24 L1032.10,321.12 L1033.60,319.02 L1035.10,316.95 L1036.60,314.89 L1038.10,312.86 L1039.60,310.85 L1041.10,308.86 L1042.60,306.90 L1044.10,304.96 L1045.60,303.04 L1047.10,301.14 L1048.60,299.26 L1050.10,297.41 L1051.60,295.58 L1053.10,293.77 L1054.60,291.99 L1056.10,290.23 L1057.60,288.49 L1059.10,286.77 L1060.60,285.08 L1062.10,283.42 L1063.60,281.79 L1065.10,280.18 L1066.60,278.60 L1068.10,277.06 L1069.60,275.54 L1071.10,274.05 L1072.60,272.59 L1074.10,271.15 L1075.60,269.75 L1077.10,268.37 L1078.60,267.03 L1080.10,265.71 L1081.60,264.41 L1083.10,263.15 L1084.60,261.91 L1086.10,260.70 L1087.60,259.52 L1089.10,258.36 L1090.60,257.23 L1092.10,256.13 L1093.60,255.05 L1095.10,254.00 L1096.60,252.98 L1098.10,251.98 L1099.60,251.00 L1101.10,250.05 L1102.60,249.13 L1104.10,248.23 L1105.60,247.36 L1107.10,246.51 L1108.60,245.69 L1110.10,244.89 L1111.60,244.11 L1113.10,243.36 L1114.60,242.63 L1116.10,241.93 L1117.60,241.24 L1119.10,240.59 L1120.60,239.95 L1122.10,239.34 L1123.60,238.75 L1125.10,238.18 L1126.60,237.64 L1128.10,237.12 L1129.60,236.62 L1131.10,236.14 L1132.60,235.68 L1134.10,235.25 L1135.60,234.84 L1137.10,234.44 L1138.60,234.07 L1140.10,233.72 L1141.60,233.39 L1143.10,233.08 L1144.60,232.79 L1146.10,232.52 L1147.60,232.28 L1149.10,232.05 L1150.60,231.84 L1152.10,231.65 L1153.60,231.47 L1155.10,231.32 L1156.60,231.19 L1158.10,231.07 L1159.60,230.98 L1161.10,230.90 L1162.60,230.84 L1164.10,230.80 L1165.60,230.77 L1167.10,230.77 L1168.60,230.78 L1170.10,230.81 L1171.60,230.85 L1173.10,230.91 L1174.60,230.99 L1176.10,231.09 L1177.60,231.20 L1179.10,231.33 L1180.60,231.47 L1182.10,231.63 L1183.60,231.81 L1185.10,232.00 L1186.60,232.21 L1188.10,232.43 L1189.60,232.66 L1191.10,232.92 L1192.60,233.18 L1194.10,233.46 L1195.60,233.76 L1197.10,234.06 L1198.60,234.39 L1200.10,234.72 L1201.60,235.07 L1203.10,235.44 L1204.60,235.81 L1206.10,236.20 L1207.60,236.60 L1209.10,237.01 L1210.60,237.43 L1212.10,237.86 L1213.60,238.30 L1215.10,238.75 L1216.60,239.20 L1218.10,239.67 L1219.60,240.14 L1221.10,240.62 L1222.60,241.11 L1224.10,241.60 L1225.60,242.09 L1227.10,242.60 L1228.60,243.10 L1230.10,243.61 L1231.60,244.12 L1233.10,244.64 L1234.60,245.16 L1236.10,245.68 L1237.60,246.21 L1239.10,246.74 L1240.60,247.27 L1242.10,247.80 L1243.60,248.34 L1245.10,248.88 L1246.60,249.43 L1248.10,249.97 L1249.60,250.52 L1251.10,251.08 L1252.60,251.63 L1254.10,252.19 L1255.60,252.76 L1257.10,253.32 L1258.60,253.89 L1260.10,254.46 L1261.60,255.03 L1263.10,255.61 L1264.60,256.19 L1266.10,256.77 L1267.60,257.36 L1269.10,257.94 L1270.60,258.53 L1272.10,259.13 L1273.60,259.72 L1275.10,260.32 L1276.60,260.92 L1278.10,261.52 L1279.60,262.13 L1281.10,262.73 L1282.60,263.34 L1284.10,263.96 L1285.60,264.57 L1287.10,265.19 L1288.60,265.80 L1290.10,266.43 L1291.60,267.05 L1293.10,267.67 L1294.60,268.30 L1296.10,268.92 L1297.60,269.55 L1299.10,270.18 L1300.60,270.81 L1302.10,271.45 L1303.60,272.08 L1305.10,272.72 L1306.60,273.35 L1308.10,273.99 L1309.60,274.63 L1311.10,275.27 L1312.60,275.91 L1314.10,276.55 L1315.60,277.19 L1317.10,277.84 L1318.60,278.48 L1320.10,279.12 L1321.60,279.77 L1323.10,280.41 L1324.60,281.06 L1326.10,281.70 L1327.60,282.35 L1329.10,283.00 L1330.60,283.64 L1332.10,284.29 L1333.60,284.93 L1335.10,285.58 L1336.60,286.23 L1338.10,286.87 L1339.60,287.52 L1341.10,288.16 L1342.60,288.81 L1344.10,289.45 L1345.60,290.09 L1347.10,290.74 L1348.60,291.38 L1350.10,292.02 L1351.60,292.66 L1353.10,293.30 L1354.60,293.94 L1356.10,294.58 L1357.60,295.21 L1359.10,295.85 L1360.60,296.48 L1362.10,297.11 L1363.60,297.75 L1365.10,298.38 L1366.60,299.00 L1368.10,299.63 L1369.60,300.26 L1371.10,300.88 L1372.60,301.50 L1374.10,302.12 L1375.60,302.74 L1377.10,303.35 L1378.60,303.97 L1380.10,304.58 L1381.60,305.19 L1383.10,305.80 L1384.60,306.40 L1386.10,307.00 L1387.60,307.60 L1389.10,308.20 L1390.60,308.79 L1392.10,309.39 L1393.60,309.98 L1395.10,310.56 L1396.60,311.15 L1398.10,311.73 L1399.60,312.30 L1401.10,312.88 L1401.60,313.07" stroke="#580000" stroke-width="3.4" />
<line x1="75.15" y1="609.50" x2="75.15" y2="605.00" stroke="#000" stroke-width="2.4" />
<line x1="99.60" y1="609.50" x2="99.60" y2="602.00" stroke="#000" stroke-width="2.4" />
<line x1="124.05" y1="609.50" x2="124.05" y2="605.00" stroke="#000" stroke-width="2.4" />
<line x1="148.50" y1="609.50" x2="148.50" y2="605.00" stroke="#000" stroke-width="2.4" />
<line x1="172.95" y1="609.50" x2="172.95" y2="605.00" stroke="#000" stroke-width="2.4" />
<line x1="197.40" y1="609.50" x2="197.40" y2="602.00" stroke="#000" stroke-width="2.4" />
<line x1="221.85" y1="609.50" x2="221.85" y2="605.00" stroke="#000" stroke-width="2.4" />
<line x1="246.30" y1="609.50" x2="246.30" y2="605.00" stroke="#000" stroke-width="2.4" />
<line x1="270.75" y1="609.50" x2="270.75" y2="605.00" stroke="#000" stroke-width="2.4" />
<line x1="295.20" y1="609.50" x2="295.20" y2="602.00" stroke="#000" stroke-width="2.4" />
<line x1="319.65" y1="609.50" x2="319.65" y2="605.00" stroke="#000" stroke-width="2.4" />
<line x1="344.10" y1="609.50" x2="344.10" y2="605.00" stroke="#000" stroke-width="2.4" />
<line x1="368.55" y1="609.50" x2="368.55" y2="605.00" stroke="#000" stroke-width="2.4" />
<line x1="393.00" y1="609.50" x2="393.00" y2="602.00" stroke="#000" stroke-width="2.4" />
<line x1="417.45" y1="609.50" x2="417.45" y2="605.00" stroke="#000" stroke-width="2.4" />
<line x1="441.90" y1="609.50" x2="441.90" y2="605.00" stroke="#000" stroke-width="2.4" />
<line x1="466.35" y1="609.50" x2="466.35" y2="605.00" stroke="#000" stroke-width="2.4" />
<line x1="490.80" y1="609.50" x2="490.80" y2="602.00" stroke="#000" stroke-width="2.4" />
<line x1="515.25" y1="609.50" x2="515.25" y2="605.00" stroke="#000" stroke-width="2.4" />
<line x1="539.70" y1="609.50" x2="539.70" y2="605.00" stroke="#000" stroke-width="2.4" />
<line x1="564.15" y1="609.50" x2="564.15" y2="605.00" stroke="#000" stroke-width="2.4" />
<line x1="588.60" y1="609.50" x2="588.60" y2="602.00" stroke="#000" stroke-width="2.4" />
<line x1="613.05" y1="609.50" x2="613.05" y2="605.00" stroke="#000" stroke-width="2.4" />
<line x1="637.50" y1="609.50" x2="637.50" y2="605.00" stroke="#000" stroke-width="2.4" />
<line x1="92.25" y1="162.00" x2="92.25" y2="166.50" stroke="#000" stroke-width="2.4" />
<line x1="113.20" y1="162.00" x2="113.20" y2="166.50" stroke="#000" stroke-width="2.4" />
<line x1="134.15" y1="162.00" x2="134.15" y2="166.50" stroke="#000" stroke-width="2.4" />
<line x1="155.10" y1="162.00" x2="155.10" y2="166.50" stroke="#000" stroke-width="2.4" />
<line x1="176.05" y1="162.00" x2="176.05" y2="166.50" stroke="#000" stroke-width="2.4" />
<line x1="197.00" y1="162.00" x2="197.00" y2="169.50" stroke="#000" stroke-width="2.4" />
<line x1="217.95" y1="162.00" x2="217.95" y2="166.50" stroke="#000" stroke-width="2.4" />
<line x1="238.90" y1="162.00" x2="238.90" y2="166.50" stroke="#000" stroke-width="2.4" />
<line x1="259.85" y1="162.00" x2="259.85" y2="166.50" stroke="#000" stroke-width="2.4" />
<line x1="280.80" y1="162.00" x2="280.80" y2="166.50" stroke="#000" stroke-width="2.4" />
<line x1="301.75" y1="162.00" x2="301.75" y2="166.50" stroke="#000" stroke-width="2.4" />
<line x1="322.70" y1="162.00" x2="322.70" y2="169.50" stroke="#000" stroke-width="2.4" />
<line x1="343.65" y1="162.00" x2="343.65" y2="166.50" stroke="#000" stroke-width="2.4" />
<line x1="364.60" y1="162.00" x2="364.60" y2="166.50" stroke="#000" stroke-width="2.4" />
<line x1="385.55" y1="162.00" x2="385.55" y2="166.50" stroke="#000" stroke-width="2.4" />
<line x1="406.50" y1="162.00" x2="406.50" y2="166.50" stroke="#000" stroke-width="2.4" />
<line x1="427.45" y1="162.00" x2="427.45" y2="166.50" stroke="#000" stroke-width="2.4" />
<line x1="448.40" y1="162.00" x2="448.40" y2="169.50" stroke="#000" stroke-width="2.4" />
<line x1="469.35" y1="162.00" x2="469.35" y2="166.50" stroke="#000" stroke-width="2.4" />
<line x1="490.30" y1="162.00" x2="490.30" y2="166.50" stroke="#000" stroke-width="2.4" />
<line x1="511.25" y1="162.00" x2="511.25" y2="166.50" stroke="#000" stroke-width="2.4" />
<line x1="532.20" y1="162.00" x2="532.20" y2="166.50" stroke="#000" stroke-width="2.4" />
<line x1="553.15" y1="162.00" x2="553.15" y2="166.50" stroke="#000" stroke-width="2.4" />
<line x1="574.10" y1="162.00" x2="574.10" y2="169.50" stroke="#000" stroke-width="2.4" />
<line x1="595.05" y1="162.00" x2="595.05" y2="166.50" stroke="#000" stroke-width="2.4" />
<line x1="616.00" y1="162.00" x2="616.00" y2="166.50" stroke="#000" stroke-width="2.4" />
<line x1="71.30" y1="594.58" x2="75.80" y2="594.58" stroke="#0000ff" stroke-width="2.4" />
<line x1="71.30" y1="579.67" x2="75.80" y2="579.67" stroke="#0000ff" stroke-width="2.4" />
<line x1="71.30" y1="564.75" x2="75.80" y2="564.75" stroke="#0000ff" stroke-width="2.4" />
<line x1="71.30" y1="549.83" x2="75.80" y2="549.83" stroke="#0000ff" stroke-width="2.4" />
<line x1="71.30" y1="534.92" x2="75.80" y2="534.92" stroke="#0000ff" stroke-width="2.4" />
<line x1="71.30" y1="520.00" x2="78.80" y2="520.00" stroke="#0000ff" stroke-width="2.4" />
<line x1="71.30" y1="505.08" x2="75.80" y2="505.08" stroke="#0000ff" stroke-width="2.4" />
<line x1="71.30" y1="490.17" x2="75.80" y2="490.17" stroke="#0000ff" stroke-width="2.4" />
<line x1="71.30" y1="475.25" x2="75.80" y2="475.25" stroke="#0000ff" stroke-width="2.4" />
<line x1="71.30" y1="460.33" x2="75.80" y2="460.33" stroke="#0000ff" stroke-width="2.4" />
<line x1="71.30" y1="445.42" x2="75.80" y2="445.42" stroke="#0000ff" stroke-width="2.4" />
<line x1="71.30" y1="430.50" x2="78.80" y2="430.50" stroke="#0000ff" stroke-width="2.4" />
<line x1="71.30" y1="415.58" x2="75.80" y2="415.58" stroke="#0000ff" stroke-width="2.4" />
<line x1="71.30" y1="400.67" x2="75.80" y2="400.67" stroke="#0000ff" stroke-width="2.4" />
<line x1="71.30" y1="385.75" x2="75.80" y2="385.75" stroke="#0000ff" stroke-width="2.4" />
<line x1="71.30" y1="370.83" x2="75.80" y2="370.83" stroke="#0000ff" stroke-width="2.4" />
<line x1="71.30" y1="355.92" x2="75.80" y2="355.92" stroke="#0000ff" stroke-width="2.4" />
<line x1="71.30" y1="341.00" x2="78.80" y2="341.00" stroke="#0000ff" stroke-width="2.4" />
<line x1="71.30" y1="326.08" x2="75.80" y2="326.08" stroke="#0000ff" stroke-width="2.4" />
<line x1="71.30" y1="311.17" x2="75.80" y2="311.17" stroke="#0000ff" stroke-width="2.4" />
<line x1="71.30" y1="296.25" x2="75.80" y2="296.25" stroke="#0000ff" stroke-width="2.4" />
<line x1="71.30" y1="281.33" x2="75.80" y2="281.33" stroke="#0000ff" stroke-width="2.4" />
<line x1="71.30" y1="266.42" x2="75.80" y2="266.42" stroke="#0000ff" stroke-width="2.4" />
<line x1="71.30" y1="251.50" x2="78.80" y2="251.50" stroke="#0000ff" stroke-width="2.4" />
<line x1="71.30" y1="236.58" x2="75.80" y2="236.58" stroke="#0000ff" stroke-width="2.4" />
<line x1="71.30" y1="221.67" x2="75.80" y2="221.67" stroke="#0000ff" stroke-width="2.4" />
<line x1="71.30" y1="206.75" x2="75.80" y2="206.75" stroke="#0000ff" stroke-width="2.4" />
<line x1="71.30" y1="191.83" x2="75.80" y2="191.83" stroke="#0000ff" stroke-width="2.4" />
<line x1="71.30" y1="176.92" x2="75.80" y2="176.92" stroke="#0000ff" stroke-width="2.4" />
<line x1="637.30" y1="598.00" x2="629.80" y2="598.00" stroke="#ff0000" stroke-width="2.4" />
<line x1="637.30" y1="588.92" x2="632.80" y2="588.92" stroke="#ff0000" stroke-width="2.4" />
<line x1="637.30" y1="579.83" x2="632.80" y2="579.83" stroke="#ff0000" stroke-width="2.4" />
<line x1="637.30" y1="570.75" x2="632.80" y2="570.75" stroke="#ff0000" stroke-width="2.4" />
<line x1="637.30" y1="561.67" x2="632.80" y2="561.67" stroke="#ff0000" stroke-width="2.4" />
<line x1="637.30" y1="552.58" x2="632.80" y2="552.58" stroke="#ff0000" stroke-width="2.4" />
<line x1="637.30" y1="543.50" x2="629.80" y2="543.50" stroke="#ff0000" stroke-width="2.4" />
<line x1="637.30" y1="534.42" x2="632.80" y2="534.42" stroke="#ff0000" stroke-width="2.4" />
<line x1="637.30" y1="525.33" x2="632.80" y2="525.33" stroke="#ff0000" stroke-width="2.4" />
<line x1="637.30" y1="516.25" x2="632.80" y2="516.25" stroke="#ff0000" stroke-width="2.4" />
<line x1="637.30" y1="507.17" x2="632.80" y2="507.17" stroke="#ff0000" stroke-width="2.4" />
<line x1="637.30" y1="498.08" x2="632.80" y2="498.08" stroke="#ff0000" stroke-width="2.4" />
<line x1="637.30" y1="489.00" x2="629.80" y2="489.00" stroke="#ff0000" stroke-width="2.4" />
<line x1="637.30" y1="479.92" x2="632.80" y2="479.92" stroke="#ff0000" stroke-width="2.4" />
<line x1="637.30" y1="470.83" x2="632.80" y2="470.83" stroke="#ff0000" stroke-width="2.4" />
<line x1="637.30" y1="461.75" x2="632.80" y2="461.75" stroke="#ff0000" stroke-width="2.4" />
<line x1="637.30" y1="452.67" x2="632.80" y2="452.67" stroke="#ff0000" stroke-width="2.4" />
<line x1="637.30" y1="443.58" x2="632.80" y2="443.58" stroke="#ff0000" stroke-width="2.4" />
<line x1="637.30" y1="434.50" x2="629.80" y2="434.50" stroke="#ff0000" stroke-width="2.4" />
<line x1="637.30" y1="425.42" x2="632.80" y2="425.42" stroke="#ff0000" stroke-width="2.4" />
<line x1="637.30" y1="416.33" x2="632.80" y2="416.33" stroke="#ff0000" stroke-width="2.4" />
<line x1="637.30" y1="407.25" x2="632.80" y2="407.25" stroke="#ff0000" stroke-width="2.4" />
<line x1="637.30" y1="398.17" x2="632.80" y2="398.17" stroke="#ff0000" stroke-width="2.4" />
<line x1="637.30" y1="389.08" x2="632.80" y2="389.08" stroke="#ff0000" stroke-width="2.4" />
<line x1="637.30" y1="380.00" x2="629.80" y2="380.00" stroke="#ff0000" stroke-width="2.4" />
<line x1="637.30" y1="370.92" x2="632.80" y2="370.92" stroke="#ff0000" stroke-width="2.4" />
<line x1="637.30" y1="361.83" x2="632.80" y2="361.83" stroke="#ff0000" stroke-width="2.4" />
<line x1="637.30" y1="352.75" x2="632.80" y2="352.75" stroke="#ff0000" stroke-width="2.4" />
<line x1="637.30" y1="343.67" x2="632.80" y2="343.67" stroke="#ff0000" stroke-width="2.4" />
<line x1="637.30" y1="334.58" x2="632.80" y2="334.58" stroke="#ff0000" stroke-width="2.4" />
<line x1="637.30" y1="325.50" x2="629.80" y2="325.50" stroke="#ff0000" stroke-width="2.4" />
<line x1="637.30" y1="316.42" x2="632.80" y2="316.42" stroke="#ff0000" stroke-width="2.4" />
<line x1="637.30" y1="307.33" x2="632.80" y2="307.33" stroke="#ff0000" stroke-width="2.4" />
<line x1="637.30" y1="298.25" x2="632.80" y2="298.25" stroke="#ff0000" stroke-width="2.4" />
<line x1="637.30" y1="289.17" x2="632.80" y2="289.17" stroke="#ff0000" stroke-width="2.4" />
<line x1="637.30" y1="280.08" x2="632.80" y2="280.08" stroke="#ff0000" stroke-width="2.4" />
<line x1="637.30" y1="271.00" x2="629.80" y2="271.00" stroke="#ff0000" stroke-width="2.4" />
<line x1="637.30" y1="261.92" x2="632.80" y2="261.92" stroke="#ff0000" stroke-width="2.4" />
<line x1="637.30" y1="252.83" x2="632.80" y2="252.83" stroke="#ff0000" stroke-width="2.4" />
<line x1="637.30" y1="243.75" x2="632.80" y2="243.75" stroke="#ff0000" stroke-width="2.4" />
<line x1="637.30" y1="234.67" x2="632.80" y2="234.67" stroke="#ff0000" stroke-width="2.4" />
<line x1="637.30" y1="225.58" x2="632.80" y2="225.58" stroke="#ff0000" stroke-width="2.4" />
<line x1="637.30" y1="216.50" x2="629.80" y2="216.50" stroke="#ff0000" stroke-width="2.4" />
<line x1="637.30" y1="207.42" x2="632.80" y2="207.42" stroke="#ff0000" stroke-width="2.4" />
<line x1="637.30" y1="198.33" x2="632.80" y2="198.33" stroke="#ff0000" stroke-width="2.4" />
<line x1="637.30" y1="189.25" x2="632.80" y2="189.25" stroke="#ff0000" stroke-width="2.4" />
<line x1="637.30" y1="180.17" x2="632.80" y2="180.17" stroke="#ff0000" stroke-width="2.4" />
<line x1="637.30" y1="171.08" x2="632.80" y2="171.08" stroke="#ff0000" stroke-width="2.4" />
<line x1="637.30" y1="607.08" x2="632.80" y2="607.08" stroke="#ff0000" stroke-width="2.4" />
<line x1="69.80" y1="162.00" x2="638.60" y2="162.00" stroke="#000" stroke-width="3" />
<line x1="69.80" y1="609.50" x2="638.60" y2="609.50" stroke="#000" stroke-width="2.8" />
<line x1="71.30" y1="163.50" x2="71.30" y2="608.10" stroke="#0000ff" stroke-width="3" />
<line x1="637.30" y1="163.50" x2="637.30" y2="608.10" stroke="#ff0000" stroke-width="2.6" />
<text transform="translate(99.60,648.20) scale(1,1.04)" font-size="37" fill="#000" text-anchor="middle" >1</text>
<text transform="translate(197.40,648.20) scale(1,1.04)" font-size="37" fill="#000" text-anchor="middle" >2</text>
<text transform="translate(295.20,648.20) scale(1,1.04)" font-size="37" fill="#000" text-anchor="middle" >3</text>
<text transform="translate(393.00,648.20) scale(1,1.04)" font-size="37" fill="#000" text-anchor="middle" >4</text>
<text transform="translate(490.80,648.20) scale(1,1.04)" font-size="37" fill="#000" text-anchor="middle" >5</text>
<text transform="translate(588.60,648.20) scale(1,1.04)" font-size="37" fill="#000" text-anchor="middle" >6</text>
<text transform="translate(53.00,616.80) scale(1,1.04)" font-size="37" fill="#0000ff" text-anchor="end" >1</text>
<text transform="translate(53.00,527.30) scale(1,1.04)" font-size="37" fill="#0000ff" text-anchor="end" >2</text>
<text transform="translate(53.00,437.80) scale(1,1.04)" font-size="37" fill="#0000ff" text-anchor="end" >3</text>
<text transform="translate(53.00,348.30) scale(1,1.04)" font-size="37" fill="#0000ff" text-anchor="end" >4</text>
<text transform="translate(53.00,258.80) scale(1,1.04)" font-size="37" fill="#0000ff" text-anchor="end" >5</text>
<text transform="translate(53.00,169.30) scale(1,1.04)" font-size="37" fill="#0000ff" text-anchor="end" >6</text>
<text transform="translate(649.80,606.40) scale(1,1.04)" font-size="37" fill="#ff0000" text-anchor="start" >0</text>
<text transform="translate(649.80,551.90) scale(1,1.04)" font-size="37" fill="#ff0000" text-anchor="start" >0.5</text>
<text transform="translate(649.80,497.40) scale(1,1.04)" font-size="37" fill="#ff0000" text-anchor="start" >1</text>
<text transform="translate(649.80,442.90) scale(1,1.04)" font-size="37" fill="#ff0000" text-anchor="start" >1.5</text>
<text transform="translate(649.80,388.40) scale(1,1.04)" font-size="37" fill="#ff0000" text-anchor="start" >2</text>
<text transform="translate(649.80,333.90) scale(1,1.04)" font-size="37" fill="#ff0000" text-anchor="start" >2.5</text>
<text transform="translate(649.80,279.40) scale(1,1.04)" font-size="37" fill="#ff0000" text-anchor="start" >3</text>
<text transform="translate(649.80,224.90) scale(1,1.04)" font-size="37" fill="#ff0000" text-anchor="start" >3.5</text>
<text transform="translate(649.80,170.40) scale(1,1.04)" font-size="37" fill="#ff0000" text-anchor="start" >4</text>
<line x1="842.69" y1="609.50" x2="842.69" y2="605.00" stroke="#000" stroke-width="2.4" />
<line x1="842.69" y1="162.00" x2="842.69" y2="166.50" stroke="#000" stroke-width="2.4" />
<line x1="867.00" y1="609.50" x2="867.00" y2="602.00" stroke="#000" stroke-width="2.4" />
<line x1="867.00" y1="162.00" x2="867.00" y2="169.50" stroke="#000" stroke-width="2.4" />
<line x1="891.31" y1="609.50" x2="891.31" y2="605.00" stroke="#000" stroke-width="2.4" />
<line x1="891.31" y1="162.00" x2="891.31" y2="166.50" stroke="#000" stroke-width="2.4" />
<line x1="915.62" y1="609.50" x2="915.62" y2="605.00" stroke="#000" stroke-width="2.4" />
<line x1="915.62" y1="162.00" x2="915.62" y2="166.50" stroke="#000" stroke-width="2.4" />
<line x1="939.93" y1="609.50" x2="939.93" y2="605.00" stroke="#000" stroke-width="2.4" />
<line x1="939.93" y1="162.00" x2="939.93" y2="166.50" stroke="#000" stroke-width="2.4" />
<line x1="964.24" y1="609.50" x2="964.24" y2="602.00" stroke="#000" stroke-width="2.4" />
<line x1="964.24" y1="162.00" x2="964.24" y2="169.50" stroke="#000" stroke-width="2.4" />
<line x1="988.55" y1="609.50" x2="988.55" y2="605.00" stroke="#000" stroke-width="2.4" />
<line x1="988.55" y1="162.00" x2="988.55" y2="166.50" stroke="#000" stroke-width="2.4" />
<line x1="1012.86" y1="609.50" x2="1012.86" y2="605.00" stroke="#000" stroke-width="2.4" />
<line x1="1012.86" y1="162.00" x2="1012.86" y2="166.50" stroke="#000" stroke-width="2.4" />
<line x1="1037.17" y1="609.50" x2="1037.17" y2="605.00" stroke="#000" stroke-width="2.4" />
<line x1="1037.17" y1="162.00" x2="1037.17" y2="166.50" stroke="#000" stroke-width="2.4" />
<line x1="1061.48" y1="609.50" x2="1061.48" y2="602.00" stroke="#000" stroke-width="2.4" />
<line x1="1061.48" y1="162.00" x2="1061.48" y2="169.50" stroke="#000" stroke-width="2.4" />
<line x1="1085.79" y1="609.50" x2="1085.79" y2="605.00" stroke="#000" stroke-width="2.4" />
<line x1="1085.79" y1="162.00" x2="1085.79" y2="166.50" stroke="#000" stroke-width="2.4" />
<line x1="1110.10" y1="609.50" x2="1110.10" y2="605.00" stroke="#000" stroke-width="2.4" />
<line x1="1110.10" y1="162.00" x2="1110.10" y2="166.50" stroke="#000" stroke-width="2.4" />
<line x1="1134.41" y1="609.50" x2="1134.41" y2="605.00" stroke="#000" stroke-width="2.4" />
<line x1="1134.41" y1="162.00" x2="1134.41" y2="166.50" stroke="#000" stroke-width="2.4" />
<line x1="1158.72" y1="609.50" x2="1158.72" y2="602.00" stroke="#000" stroke-width="2.4" />
<line x1="1158.72" y1="162.00" x2="1158.72" y2="169.50" stroke="#000" stroke-width="2.4" />
<line x1="1183.03" y1="609.50" x2="1183.03" y2="605.00" stroke="#000" stroke-width="2.4" />
<line x1="1183.03" y1="162.00" x2="1183.03" y2="166.50" stroke="#000" stroke-width="2.4" />
<line x1="1207.34" y1="609.50" x2="1207.34" y2="605.00" stroke="#000" stroke-width="2.4" />
<line x1="1207.34" y1="162.00" x2="1207.34" y2="166.50" stroke="#000" stroke-width="2.4" />
<line x1="1231.65" y1="609.50" x2="1231.65" y2="605.00" stroke="#000" stroke-width="2.4" />
<line x1="1231.65" y1="162.00" x2="1231.65" y2="166.50" stroke="#000" stroke-width="2.4" />
<line x1="1255.96" y1="609.50" x2="1255.96" y2="602.00" stroke="#000" stroke-width="2.4" />
<line x1="1255.96" y1="162.00" x2="1255.96" y2="169.50" stroke="#000" stroke-width="2.4" />
<line x1="1280.27" y1="609.50" x2="1280.27" y2="605.00" stroke="#000" stroke-width="2.4" />
<line x1="1280.27" y1="162.00" x2="1280.27" y2="166.50" stroke="#000" stroke-width="2.4" />
<line x1="1304.58" y1="609.50" x2="1304.58" y2="605.00" stroke="#000" stroke-width="2.4" />
<line x1="1304.58" y1="162.00" x2="1304.58" y2="166.50" stroke="#000" stroke-width="2.4" />
<line x1="1328.89" y1="609.50" x2="1328.89" y2="605.00" stroke="#000" stroke-width="2.4" />
<line x1="1328.89" y1="162.00" x2="1328.89" y2="166.50" stroke="#000" stroke-width="2.4" />
<line x1="1353.20" y1="609.50" x2="1353.20" y2="602.00" stroke="#000" stroke-width="2.4" />
<line x1="1353.20" y1="162.00" x2="1353.20" y2="169.50" stroke="#000" stroke-width="2.4" />
<line x1="1377.51" y1="609.50" x2="1377.51" y2="605.00" stroke="#000" stroke-width="2.4" />
<line x1="1377.51" y1="162.00" x2="1377.51" y2="166.50" stroke="#000" stroke-width="2.4" />
<line x1="1401.82" y1="609.50" x2="1401.82" y2="605.00" stroke="#000" stroke-width="2.4" />
<line x1="1401.82" y1="162.00" x2="1401.82" y2="166.50" stroke="#000" stroke-width="2.4" />
<line x1="838.60" y1="587.12" x2="843.10" y2="587.12" stroke="#0000ff" stroke-width="2.4" />
<line x1="838.60" y1="564.75" x2="843.10" y2="564.75" stroke="#0000ff" stroke-width="2.4" />
<line x1="838.60" y1="542.38" x2="843.10" y2="542.38" stroke="#0000ff" stroke-width="2.4" />
<line x1="838.60" y1="520.00" x2="846.10" y2="520.00" stroke="#0000ff" stroke-width="2.4" />
<line x1="838.60" y1="497.62" x2="843.10" y2="497.62" stroke="#0000ff" stroke-width="2.4" />
<line x1="838.60" y1="475.25" x2="843.10" y2="475.25" stroke="#0000ff" stroke-width="2.4" />
<line x1="838.60" y1="452.88" x2="843.10" y2="452.88" stroke="#0000ff" stroke-width="2.4" />
<line x1="838.60" y1="430.50" x2="846.10" y2="430.50" stroke="#0000ff" stroke-width="2.4" />
<line x1="838.60" y1="408.12" x2="843.10" y2="408.12" stroke="#0000ff" stroke-width="2.4" />
<line x1="838.60" y1="385.75" x2="843.10" y2="385.75" stroke="#0000ff" stroke-width="2.4" />
<line x1="838.60" y1="363.38" x2="843.10" y2="363.38" stroke="#0000ff" stroke-width="2.4" />
<line x1="838.60" y1="341.00" x2="846.10" y2="341.00" stroke="#0000ff" stroke-width="2.4" />
<line x1="838.60" y1="318.62" x2="843.10" y2="318.62" stroke="#0000ff" stroke-width="2.4" />
<line x1="838.60" y1="296.25" x2="843.10" y2="296.25" stroke="#0000ff" stroke-width="2.4" />
<line x1="838.60" y1="273.88" x2="843.10" y2="273.88" stroke="#0000ff" stroke-width="2.4" />
<line x1="838.60" y1="251.50" x2="846.10" y2="251.50" stroke="#0000ff" stroke-width="2.4" />
<line x1="838.60" y1="229.12" x2="843.10" y2="229.12" stroke="#0000ff" stroke-width="2.4" />
<line x1="838.60" y1="206.75" x2="843.10" y2="206.75" stroke="#0000ff" stroke-width="2.4" />
<line x1="838.60" y1="184.38" x2="843.10" y2="184.38" stroke="#0000ff" stroke-width="2.4" />
<line x1="1401.60" y1="598.00" x2="1394.10" y2="598.00" stroke="#ff0000" stroke-width="2.4" />
<line x1="1401.60" y1="584.38" x2="1397.10" y2="584.38" stroke="#ff0000" stroke-width="2.4" />
<line x1="1401.60" y1="570.75" x2="1397.10" y2="570.75" stroke="#ff0000" stroke-width="2.4" />
<line x1="1401.60" y1="557.12" x2="1397.10" y2="557.12" stroke="#ff0000" stroke-width="2.4" />
<line x1="1401.60" y1="543.50" x2="1394.10" y2="543.50" stroke="#ff0000" stroke-width="2.4" />
<line x1="1401.60" y1="529.88" x2="1397.10" y2="529.88" stroke="#ff0000" stroke-width="2.4" />
<line x1="1401.60" y1="516.25" x2="1397.10" y2="516.25" stroke="#ff0000" stroke-width="2.4" />
<line x1="1401.60" y1="502.62" x2="1397.10" y2="502.62" stroke="#ff0000" stroke-width="2.4" />
<line x1="1401.60" y1="489.00" x2="1394.10" y2="489.00" stroke="#ff0000" stroke-width="2.4" />
<line x1="1401.60" y1="475.38" x2="1397.10" y2="475.38" stroke="#ff0000" stroke-width="2.4" />
<line x1="1401.60" y1="461.75" x2="1397.10" y2="461.75" stroke="#ff0000" stroke-width="2.4" />
<line x1="1401.60" y1="448.12" x2="1397.10" y2="448.12" stroke="#ff0000" stroke-width="2.4" />
<line x1="1401.60" y1="434.50" x2="1394.10" y2="434.50" stroke="#ff0000" stroke-width="2.4" />
<line x1="1401.60" y1="420.88" x2="1397.10" y2="420.88" stroke="#ff0000" stroke-width="2.4" />
<line x1="1401.60" y1="407.25" x2="1397.10" y2="407.25" stroke="#ff0000" stroke-width="2.4" />
<line x1="1401.60" y1="393.62" x2="1397.10" y2="393.62" stroke="#ff0000" stroke-width="2.4" />
<line x1="1401.60" y1="380.00" x2="1394.10" y2="380.00" stroke="#ff0000" stroke-width="2.4" />
<line x1="1401.60" y1="366.38" x2="1397.10" y2="366.38" stroke="#ff0000" stroke-width="2.4" />
<line x1="1401.60" y1="352.75" x2="1397.10" y2="352.75" stroke="#ff0000" stroke-width="2.4" />
<line x1="1401.60" y1="339.12" x2="1397.10" y2="339.12" stroke="#ff0000" stroke-width="2.4" />
<line x1="1401.60" y1="325.50" x2="1394.10" y2="325.50" stroke="#ff0000" stroke-width="2.4" />
<line x1="1401.60" y1="311.88" x2="1397.10" y2="311.88" stroke="#ff0000" stroke-width="2.4" />
<line x1="1401.60" y1="298.25" x2="1397.10" y2="298.25" stroke="#ff0000" stroke-width="2.4" />
<line x1="1401.60" y1="284.62" x2="1397.10" y2="284.62" stroke="#ff0000" stroke-width="2.4" />
<line x1="1401.60" y1="271.00" x2="1394.10" y2="271.00" stroke="#ff0000" stroke-width="2.4" />
<line x1="1401.60" y1="257.38" x2="1397.10" y2="257.38" stroke="#ff0000" stroke-width="2.4" />
<line x1="1401.60" y1="243.75" x2="1397.10" y2="243.75" stroke="#ff0000" stroke-width="2.4" />
<line x1="1401.60" y1="230.12" x2="1397.10" y2="230.12" stroke="#ff0000" stroke-width="2.4" />
<line x1="1401.60" y1="216.50" x2="1394.10" y2="216.50" stroke="#ff0000" stroke-width="2.4" />
<line x1="1401.60" y1="202.88" x2="1397.10" y2="202.88" stroke="#ff0000" stroke-width="2.4" />
<line x1="1401.60" y1="189.25" x2="1397.10" y2="189.25" stroke="#ff0000" stroke-width="2.4" />
<line x1="1401.60" y1="175.62" x2="1397.10" y2="175.62" stroke="#ff0000" stroke-width="2.4" />
<line x1="837.10" y1="162.00" x2="1402.90" y2="162.00" stroke="#000" stroke-width="3" />
<line x1="837.10" y1="609.50" x2="1402.90" y2="609.50" stroke="#000" stroke-width="2.8" />
<line x1="838.60" y1="163.50" x2="838.60" y2="608.10" stroke="#0000ff" stroke-width="3" />
<line x1="1401.60" y1="163.50" x2="1401.60" y2="608.10" stroke="#ff0000" stroke-width="2.6" />
<text transform="translate(867.00,648.20) scale(1,1.04)" font-size="37" fill="#000" text-anchor="middle" >1</text>
<text transform="translate(964.24,648.20) scale(1,1.04)" font-size="37" fill="#000" text-anchor="middle" >2</text>
<text transform="translate(1061.48,648.20) scale(1,1.04)" font-size="37" fill="#000" text-anchor="middle" >3</text>
<text transform="translate(1158.72,648.20) scale(1,1.04)" font-size="37" fill="#000" text-anchor="middle" >4</text>
<text transform="translate(1255.96,648.20) scale(1,1.04)" font-size="37" fill="#000" text-anchor="middle" >5</text>
<text transform="translate(1353.20,648.20) scale(1,1.04)" font-size="37" fill="#000" text-anchor="middle" >6</text>
<text transform="translate(820.30,619.50) scale(1,1.04)" font-size="37" fill="#0000ff" text-anchor="end" >1</text>
<text transform="translate(820.30,530.00) scale(1,1.04)" font-size="37" fill="#0000ff" text-anchor="end" >2</text>
<text transform="translate(820.30,440.50) scale(1,1.04)" font-size="37" fill="#0000ff" text-anchor="end" >3</text>
<text transform="translate(820.30,351.00) scale(1,1.04)" font-size="37" fill="#0000ff" text-anchor="end" >4</text>
<text transform="translate(820.30,261.50) scale(1,1.04)" font-size="37" fill="#0000ff" text-anchor="end" >5</text>
<text transform="translate(820.30,172.00) scale(1,1.04)" font-size="37" fill="#0000ff" text-anchor="end" >6</text>
<text transform="translate(1417.70,606.40) scale(1,1.04)" font-size="37" fill="#ff0000" text-anchor="start" >0</text>
<text transform="translate(1417.70,551.90) scale(1,1.04)" font-size="37" fill="#ff0000" text-anchor="start" >0.5</text>
<text transform="translate(1417.70,497.40) scale(1,1.04)" font-size="37" fill="#ff0000" text-anchor="start" >1</text>
<text transform="translate(1417.70,442.90) scale(1,1.04)" font-size="37" fill="#ff0000" text-anchor="start" >1.5</text>
<text transform="translate(1417.70,388.40) scale(1,1.04)" font-size="37" fill="#ff0000" text-anchor="start" >2</text>
<text transform="translate(1417.70,333.90) scale(1,1.04)" font-size="37" fill="#ff0000" text-anchor="start" >2.5</text>
<text transform="translate(1417.70,279.40) scale(1,1.04)" font-size="37" fill="#ff0000" text-anchor="start" >3</text>
<text transform="translate(1417.70,224.90) scale(1,1.04)" font-size="37" fill="#ff0000" text-anchor="start" >3.5</text>
<text transform="translate(1417.70,170.40) scale(1,1.04)" font-size="37" fill="#ff0000" text-anchor="start" >4</text>
<text x="355.50" y="688.70" font-size="36.9" fill="#000" text-anchor="middle" >Photon energy (eV)</text>
<text x="1123.00" y="688.70" font-size="36.9" fill="#000" text-anchor="middle" >Photon energy (eV)</text>
<text x="87.50" y="216.80" font-size="43" fill="#000" text-anchor="start" >a-Si</text>
<text x="856.70" y="216.80" font-size="43" fill="#000" text-anchor="start" >a-Ge</text>
<text transform="translate(23.1,380) rotate(-90)" font-size="37" fill="#0000ff" text-anchor="middle">n</text>
<text transform="translate(727.6,382.6) rotate(-90)" font-size="37" fill="#ff0000" text-anchor="middle">k</text>
<text transform="translate(790.2,383.3) rotate(-90)" font-size="37" fill="#0000ff" text-anchor="middle">n</text>
<text transform="translate(1497.3,382.7) rotate(-90)" font-size="37" fill="#ff0000" text-anchor="middle">k</text>
</svg></body></html>
